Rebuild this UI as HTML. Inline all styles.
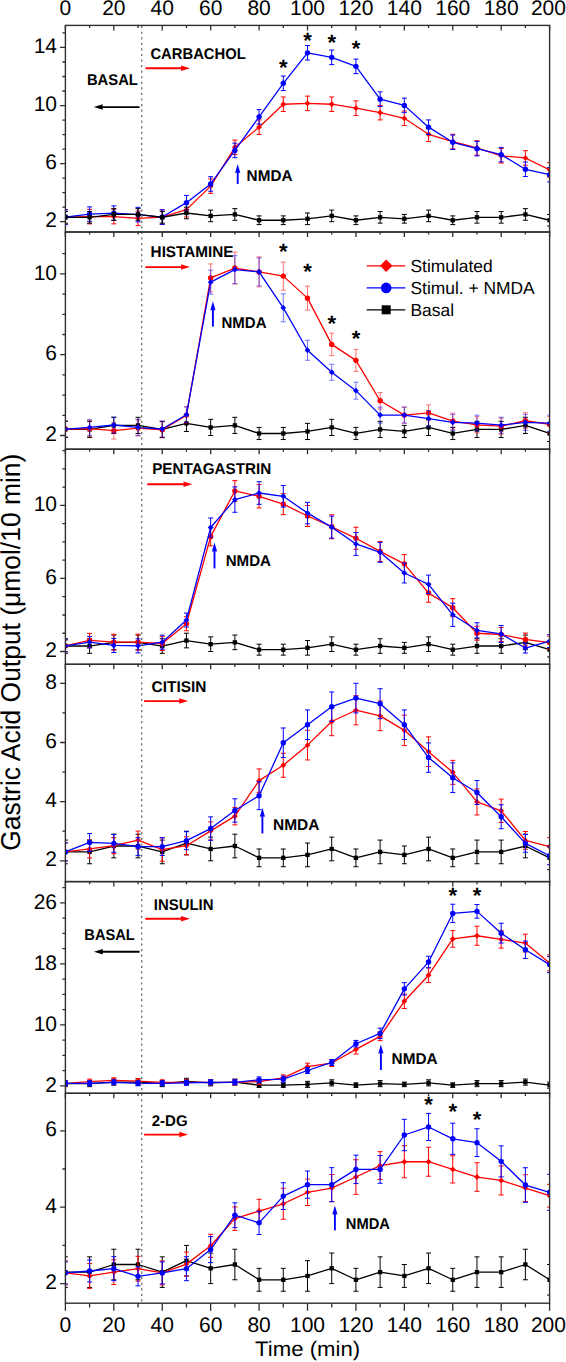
<!DOCTYPE html><html><head><meta charset="utf-8"><style>html,body{margin:0;padding:0;background:#fff;}svg{display:block;}text{font-family:"Liberation Sans",sans-serif;text-rendering:geometricPrecision;}</style></head><body>
<svg width="566" height="1362" viewBox="0 0 566 1362">
<rect width="566" height="1362" fill="#fff"/>
<defs>
<clipPath id="c0"><rect x="65.4" y="25.4" width="484.20000000000005" height="206.6"/></clipPath>
<clipPath id="c1"><rect x="65.4" y="232.0" width="484.20000000000005" height="217.2"/></clipPath>
<clipPath id="c2"><rect x="65.4" y="449.2" width="484.20000000000005" height="215.09999999999997"/></clipPath>
<clipPath id="c3"><rect x="65.4" y="664.3" width="484.20000000000005" height="217.30000000000007"/></clipPath>
<clipPath id="c4"><rect x="65.4" y="881.6" width="484.20000000000005" height="211.69999999999993"/></clipPath>
<clipPath id="c5"><rect x="65.4" y="1093.3" width="484.20000000000005" height="209.9000000000001"/></clipPath>
</defs>
<g clip-path="url(#c0)">
<g stroke="#ff0000" stroke-width="1.0" fill="none" opacity="1.0"><path d="M65.40 209.79V224.31M62.90 209.79H67.90M62.90 224.31H67.90"/><path d="M89.61 209.36V223.88M87.11 209.36H92.11M87.11 223.88H92.11"/><path d="M113.82 209.36V223.88M111.32 209.36H116.32M111.32 223.88H116.32"/><path d="M138.03 211.10V225.62M135.53 211.10H140.53M135.53 225.62H140.53"/><path d="M162.24 209.79V224.31M159.74 209.79H164.74M159.74 224.31H164.74"/><path d="M186.45 202.39V216.91M183.95 202.39H188.95M183.95 216.91H188.95"/><path d="M210.66 178.87V193.39M208.16 178.87H213.16M208.16 193.39H213.16"/><path d="M234.87 140.10V154.62M232.37 140.10H237.37M232.37 154.62H237.37"/><path d="M259.08 119.91V134.43M256.58 119.91H261.58M256.58 134.43H261.58"/><path d="M283.29 96.97V111.49M280.79 96.97H285.79M280.79 111.49H285.79"/><path d="M307.50 96.10V110.62M305.00 96.10H310.00M305.00 110.62H310.00"/><path d="M331.71 96.97V111.49M329.21 96.97H334.21M329.21 111.49H334.21"/><path d="M355.92 100.89V115.41M353.42 100.89H358.42M353.42 115.41H358.42"/><path d="M380.13 105.39V119.91M377.63 105.39H382.63M377.63 119.91H382.63"/><path d="M404.34 111.06V125.58M401.84 111.06H406.84M401.84 125.58H406.84"/><path d="M428.55 127.03V141.55M426.05 127.03H431.05M426.05 141.55H431.05"/><path d="M452.76 134.29V148.81M450.26 134.29H455.26M450.26 148.81H455.26"/><path d="M476.97 140.68V155.20M474.47 140.68H479.47M474.47 155.20H479.47"/><path d="M501.18 148.52V163.04M498.68 148.52H503.68M498.68 163.04H503.68"/><path d="M525.39 150.70V165.22M522.89 150.70H527.89M522.89 165.22H527.89"/><path d="M549.60 162.60V177.12M547.10 162.60H552.10M547.10 177.12H552.10"/></g>
<path d="M65.40 217.05L89.61 216.62L113.82 216.62L138.03 218.36L162.24 217.05L186.45 209.65L210.66 186.13L234.87 147.36L259.08 127.17L283.29 104.23L307.50 103.36L331.71 104.23L355.92 108.15L380.13 112.65L404.34 118.32L428.55 134.29L452.76 141.55L476.97 147.94L501.18 155.78L525.39 157.96L549.60 169.86" stroke="#ff0000" stroke-width="1.3" fill="none" stroke-linejoin="round"/>
<path d="M65.40 214.14L68.32 217.05L65.40 219.97L62.48 217.05Z" fill="#ff0000"/>
<path d="M89.61 213.70L92.53 216.62L89.61 219.53L86.69 216.62Z" fill="#ff0000"/>
<path d="M113.82 213.70L116.74 216.62L113.82 219.53L110.90 216.62Z" fill="#ff0000"/>
<path d="M138.03 215.44L140.95 218.36L138.03 221.28L135.11 218.36Z" fill="#ff0000"/>
<path d="M162.24 214.14L165.16 217.05L162.24 219.97L159.32 217.05Z" fill="#ff0000"/>
<path d="M186.45 206.73L189.37 209.65L186.45 212.56L183.53 209.65Z" fill="#ff0000"/>
<path d="M210.66 183.21L213.58 186.13L210.66 189.04L207.74 186.13Z" fill="#ff0000"/>
<path d="M234.87 144.44L237.79 147.36L234.87 150.27L231.95 147.36Z" fill="#ff0000"/>
<path d="M259.08 124.26L262.00 127.17L259.08 130.09L256.16 127.17Z" fill="#ff0000"/>
<path d="M283.29 101.32L286.21 104.23L283.29 107.15L280.37 104.23Z" fill="#ff0000"/>
<path d="M307.50 100.45L310.42 103.36L307.50 106.28L304.58 103.36Z" fill="#ff0000"/>
<path d="M331.71 101.32L334.63 104.23L331.71 107.15L328.79 104.23Z" fill="#ff0000"/>
<path d="M355.92 105.24L358.84 108.15L355.92 111.07L353.00 108.15Z" fill="#ff0000"/>
<path d="M380.13 109.74L383.05 112.65L380.13 115.57L377.21 112.65Z" fill="#ff0000"/>
<path d="M404.34 115.40L407.26 118.32L404.34 121.23L401.42 118.32Z" fill="#ff0000"/>
<path d="M428.55 131.37L431.47 134.29L428.55 137.21L425.63 134.29Z" fill="#ff0000"/>
<path d="M452.76 138.63L455.68 141.55L452.76 144.47L449.84 141.55Z" fill="#ff0000"/>
<path d="M476.97 145.02L479.89 147.94L476.97 150.85L474.05 147.94Z" fill="#ff0000"/>
<path d="M501.18 152.86L504.10 155.78L501.18 158.70L498.26 155.78Z" fill="#ff0000"/>
<path d="M525.39 155.04L528.31 157.96L525.39 160.87L522.47 157.96Z" fill="#ff0000"/>
<path d="M549.60 166.95L552.52 169.86L549.60 172.78L546.68 169.86Z" fill="#ff0000"/>
<g stroke="#0000ff" stroke-width="1.0" fill="none" opacity="1.0"><path d="M65.40 209.79V224.31M62.90 209.79H67.90M62.90 224.31H67.90"/><path d="M89.61 206.89V221.41M87.11 206.89H92.11M87.11 221.41H92.11"/><path d="M113.82 205.87V220.39M111.32 205.87H116.32M111.32 220.39H116.32"/><path d="M138.03 207.33V221.85M135.53 207.33H140.53M135.53 221.85H140.53"/><path d="M162.24 209.79V224.31M159.74 209.79H164.74M159.74 224.31H164.74"/><path d="M186.45 195.42V209.94M183.95 195.42H188.95M183.95 209.94H188.95"/><path d="M210.66 176.69V191.21M208.16 176.69H213.16M208.16 191.21H213.16"/><path d="M234.87 143.15V157.67M232.37 143.15H237.37M232.37 157.67H237.37"/><path d="M259.08 109.61V124.13M256.58 109.61H261.58M256.58 124.13H261.58"/><path d="M283.29 76.06V90.58M280.79 76.06H285.79M280.79 90.58H285.79"/><path d="M307.50 45.57V60.09M305.00 45.57H310.00M305.00 60.09H310.00"/><path d="M331.71 50.07V64.59M329.21 50.07H334.21M329.21 64.59H334.21"/><path d="M355.92 59.08V73.60M353.42 59.08H358.42M353.42 73.60H358.42"/><path d="M380.13 91.89V106.41M377.63 91.89H382.63M377.63 106.41H382.63"/><path d="M404.34 98.13V112.65M401.84 98.13H406.84M401.84 112.65H406.84"/><path d="M428.55 119.91V134.43M426.05 119.91H431.05M426.05 134.43H431.05"/><path d="M452.76 135.02V149.54M450.26 135.02H455.26M450.26 149.54H455.26"/><path d="M476.97 141.40V155.92M474.47 141.40H479.47M474.47 155.92H479.47"/><path d="M501.18 147.36V161.88M498.68 147.36H503.68M498.68 161.88H503.68"/><path d="M525.39 162.02V176.54M522.89 162.02H527.89M522.89 176.54H527.89"/><path d="M549.60 167.40V181.92M547.10 167.40H552.10M547.10 181.92H552.10"/></g>
<path d="M65.40 217.05L89.61 214.15L113.82 213.13L138.03 214.59L162.24 217.05L186.45 202.68L210.66 183.95L234.87 150.41L259.08 116.87L283.29 83.32L307.50 52.83L331.71 57.33L355.92 66.34L380.13 99.15L404.34 105.39L428.55 127.17L452.76 142.28L476.97 148.66L501.18 154.62L525.39 169.28L549.60 174.66" stroke="#0000ff" stroke-width="1.3" fill="none" stroke-linejoin="round"/>
<circle cx="65.40" cy="217.05" r="2.70" fill="#0000ff"/>
<circle cx="89.61" cy="214.15" r="2.70" fill="#0000ff"/>
<circle cx="113.82" cy="213.13" r="2.70" fill="#0000ff"/>
<circle cx="138.03" cy="214.59" r="2.70" fill="#0000ff"/>
<circle cx="162.24" cy="217.05" r="2.70" fill="#0000ff"/>
<circle cx="186.45" cy="202.68" r="2.70" fill="#0000ff"/>
<circle cx="210.66" cy="183.95" r="2.70" fill="#0000ff"/>
<circle cx="234.87" cy="150.41" r="2.70" fill="#0000ff"/>
<circle cx="259.08" cy="116.87" r="2.70" fill="#0000ff"/>
<circle cx="283.29" cy="83.32" r="2.70" fill="#0000ff"/>
<circle cx="307.50" cy="52.83" r="2.70" fill="#0000ff"/>
<circle cx="331.71" cy="57.33" r="2.70" fill="#0000ff"/>
<circle cx="355.92" cy="66.34" r="2.70" fill="#0000ff"/>
<circle cx="380.13" cy="99.15" r="2.70" fill="#0000ff"/>
<circle cx="404.34" cy="105.39" r="2.70" fill="#0000ff"/>
<circle cx="428.55" cy="127.17" r="2.70" fill="#0000ff"/>
<circle cx="452.76" cy="142.28" r="2.70" fill="#0000ff"/>
<circle cx="476.97" cy="148.66" r="2.70" fill="#0000ff"/>
<circle cx="501.18" cy="154.62" r="2.70" fill="#0000ff"/>
<circle cx="525.39" cy="169.28" r="2.70" fill="#0000ff"/>
<circle cx="549.60" cy="174.66" r="2.70" fill="#0000ff"/>
<g stroke="#000000" stroke-width="1.0" fill="none" opacity="1.0"><path d="M65.40 211.54V223.15M62.90 211.54H67.90M62.90 223.15H67.90"/><path d="M89.61 211.54V223.15M87.11 211.54H92.11M87.11 223.15H92.11"/><path d="M113.82 208.63V220.25M111.32 208.63H116.32M111.32 220.25H116.32"/><path d="M138.03 208.63V220.25M135.53 208.63H140.53M135.53 220.25H140.53"/><path d="M162.24 211.54V223.15M159.74 211.54H164.74M159.74 223.15H164.74"/><path d="M186.45 207.18V218.80M183.95 207.18H188.95M183.95 218.80H188.95"/><path d="M210.66 210.08V221.70M208.16 210.08H213.16M208.16 221.70H213.16"/><path d="M234.87 208.63V220.25M232.37 208.63H237.37M232.37 220.25H237.37"/><path d="M259.08 215.89V224.60M256.58 215.89H261.58M256.58 224.60H261.58"/><path d="M283.29 215.89V224.60M280.79 215.89H285.79M280.79 224.60H285.79"/><path d="M307.50 212.99V224.60M305.00 212.99H310.00M305.00 224.60H310.00"/><path d="M331.71 210.08V221.70M329.21 210.08H334.21M329.21 221.70H334.21"/><path d="M355.92 215.89V224.60M353.42 215.89H358.42M353.42 224.60H358.42"/><path d="M380.13 211.54V223.15M377.63 211.54H382.63M377.63 223.15H382.63"/><path d="M404.34 214.44V223.15M401.84 214.44H406.84M401.84 223.15H406.84"/><path d="M428.55 210.08V221.70M426.05 210.08H431.05M426.05 221.70H431.05"/><path d="M452.76 215.89V224.60M450.26 215.89H455.26M450.26 224.60H455.26"/><path d="M476.97 211.54V223.15M474.47 211.54H479.47M474.47 223.15H479.47"/><path d="M501.18 211.54V223.15M498.68 211.54H503.68M498.68 223.15H503.68"/><path d="M525.39 208.63V220.25M522.89 208.63H527.89M522.89 220.25H527.89"/><path d="M549.60 214.44V226.06M547.10 214.44H552.10M547.10 226.06H552.10"/></g>
<path d="M65.40 217.34L89.61 217.34L113.82 214.44L138.03 214.44L162.24 217.34L186.45 212.99L210.66 215.89L234.87 214.44L259.08 220.25L283.29 220.25L307.50 218.80L331.71 215.89L355.92 220.25L380.13 217.34L404.34 218.80L428.55 215.89L452.76 220.25L476.97 217.34L501.18 217.34L525.39 214.44L549.60 220.25" stroke="#000000" stroke-width="1.3" fill="none" stroke-linejoin="round"/>
<rect x="63.24" y="215.18" width="4.32" height="4.32" fill="#000000"/>
<rect x="87.45" y="215.18" width="4.32" height="4.32" fill="#000000"/>
<rect x="111.66" y="212.28" width="4.32" height="4.32" fill="#000000"/>
<rect x="135.87" y="212.28" width="4.32" height="4.32" fill="#000000"/>
<rect x="160.08" y="215.18" width="4.32" height="4.32" fill="#000000"/>
<rect x="184.29" y="210.83" width="4.32" height="4.32" fill="#000000"/>
<rect x="208.50" y="213.73" width="4.32" height="4.32" fill="#000000"/>
<rect x="232.71" y="212.28" width="4.32" height="4.32" fill="#000000"/>
<rect x="256.92" y="218.09" width="4.32" height="4.32" fill="#000000"/>
<rect x="281.13" y="218.09" width="4.32" height="4.32" fill="#000000"/>
<rect x="305.34" y="216.64" width="4.32" height="4.32" fill="#000000"/>
<rect x="329.55" y="213.73" width="4.32" height="4.32" fill="#000000"/>
<rect x="353.76" y="218.09" width="4.32" height="4.32" fill="#000000"/>
<rect x="377.97" y="215.18" width="4.32" height="4.32" fill="#000000"/>
<rect x="402.18" y="216.64" width="4.32" height="4.32" fill="#000000"/>
<rect x="426.39" y="213.73" width="4.32" height="4.32" fill="#000000"/>
<rect x="450.60" y="218.09" width="4.32" height="4.32" fill="#000000"/>
<rect x="474.81" y="215.18" width="4.32" height="4.32" fill="#000000"/>
<rect x="499.02" y="215.18" width="4.32" height="4.32" fill="#000000"/>
<rect x="523.23" y="212.28" width="4.32" height="4.32" fill="#000000"/>
<rect x="547.44" y="218.09" width="4.32" height="4.32" fill="#000000"/>
</g>
<g clip-path="url(#c1)">
<g stroke="#000000" stroke-width="1.0" fill="none" opacity="1.0"><path d="M65.40 421.36V437.52M62.90 421.36H67.90M62.90 437.52H67.90"/><path d="M89.61 421.36V437.52M87.11 421.36H92.11M87.11 437.52H92.11"/><path d="M113.82 417.32V433.48M111.32 417.32H116.32M111.32 433.48H116.32"/><path d="M138.03 417.32V433.48M135.53 417.32H140.53M135.53 433.48H140.53"/><path d="M162.24 421.36V437.52M159.74 421.36H164.74M159.74 437.52H164.74"/><path d="M186.45 415.30V431.46M183.95 415.30H188.95M183.95 431.46H188.95"/><path d="M210.66 419.34V435.50M208.16 419.34H213.16M208.16 435.50H213.16"/><path d="M234.87 417.32V433.48M232.37 417.32H237.37M232.37 433.48H237.37"/><path d="M259.08 427.42V439.54M256.58 427.42H261.58M256.58 439.54H261.58"/><path d="M283.29 427.42V439.54M280.79 427.42H285.79M280.79 439.54H285.79"/><path d="M307.50 423.38V439.54M305.00 423.38H310.00M305.00 439.54H310.00"/><path d="M331.71 419.34V435.50M329.21 419.34H334.21M329.21 435.50H334.21"/><path d="M355.92 427.42V439.54M353.42 427.42H358.42M353.42 439.54H358.42"/><path d="M380.13 421.36V437.52M377.63 421.36H382.63M377.63 437.52H382.63"/><path d="M404.34 425.40V437.52M401.84 425.40H406.84M401.84 437.52H406.84"/><path d="M428.55 419.34V435.50M426.05 419.34H431.05M426.05 435.50H431.05"/><path d="M452.76 427.42V439.54M450.26 427.42H455.26M450.26 439.54H455.26"/><path d="M476.97 421.36V437.52M474.47 421.36H479.47M474.47 437.52H479.47"/><path d="M501.18 421.36V437.52M498.68 421.36H503.68M498.68 437.52H503.68"/><path d="M525.39 417.32V433.48M522.89 417.32H527.89M522.89 433.48H527.89"/><path d="M549.60 425.40V441.56M547.10 425.40H552.10M547.10 441.56H552.10"/></g>
<path d="M65.40 429.44L89.61 429.44L113.82 425.40L138.03 425.40L162.24 429.44L186.45 423.38L210.66 427.42L234.87 425.40L259.08 433.48L283.29 433.48L307.50 431.46L331.71 427.42L355.92 433.48L380.13 429.44L404.34 431.46L428.55 427.42L452.76 433.48L476.97 429.44L501.18 429.44L525.39 425.40L549.60 433.48" stroke="#000000" stroke-width="1.3" fill="none" stroke-linejoin="round"/>
<rect x="63.24" y="427.28" width="4.32" height="4.32" fill="#000000"/>
<rect x="87.45" y="427.28" width="4.32" height="4.32" fill="#000000"/>
<rect x="111.66" y="423.24" width="4.32" height="4.32" fill="#000000"/>
<rect x="135.87" y="423.24" width="4.32" height="4.32" fill="#000000"/>
<rect x="160.08" y="427.28" width="4.32" height="4.32" fill="#000000"/>
<rect x="184.29" y="421.22" width="4.32" height="4.32" fill="#000000"/>
<rect x="208.50" y="425.26" width="4.32" height="4.32" fill="#000000"/>
<rect x="232.71" y="423.24" width="4.32" height="4.32" fill="#000000"/>
<rect x="256.92" y="431.32" width="4.32" height="4.32" fill="#000000"/>
<rect x="281.13" y="431.32" width="4.32" height="4.32" fill="#000000"/>
<rect x="305.34" y="429.30" width="4.32" height="4.32" fill="#000000"/>
<rect x="329.55" y="425.26" width="4.32" height="4.32" fill="#000000"/>
<rect x="353.76" y="431.32" width="4.32" height="4.32" fill="#000000"/>
<rect x="377.97" y="427.28" width="4.32" height="4.32" fill="#000000"/>
<rect x="402.18" y="429.30" width="4.32" height="4.32" fill="#000000"/>
<rect x="426.39" y="425.26" width="4.32" height="4.32" fill="#000000"/>
<rect x="450.60" y="431.32" width="4.32" height="4.32" fill="#000000"/>
<rect x="474.81" y="427.28" width="4.32" height="4.32" fill="#000000"/>
<rect x="499.02" y="427.28" width="4.32" height="4.32" fill="#000000"/>
<rect x="523.23" y="423.24" width="4.32" height="4.32" fill="#000000"/>
<rect x="547.44" y="431.32" width="4.32" height="4.32" fill="#000000"/>
<g stroke="#ff0000" stroke-width="1.0" fill="none" opacity="0.55"><path d="M65.40 421.04V437.04M62.90 421.04H67.90M62.90 437.04H67.90"/><path d="M89.61 420.63V436.63M87.11 420.63H92.11M87.11 436.63H92.11"/><path d="M113.82 422.25V439.05M111.32 422.25H116.32M111.32 439.05H116.32"/><path d="M138.03 420.03V436.03M135.53 420.03H140.53M135.53 436.03H140.53"/><path d="M162.24 421.84V437.84M159.74 421.84H164.74M159.74 437.84H164.74"/><path d="M186.45 407.10V423.10M183.95 407.10H188.95M183.95 423.10H188.95"/><path d="M210.66 263.94V291.94M208.16 263.94H213.16M208.16 291.94H213.16"/><path d="M234.87 252.04V284.04M232.37 252.04H237.37M232.37 284.04H237.37"/><path d="M259.08 256.88V286.88M256.58 256.88H261.58M256.58 286.88H261.58"/><path d="M283.29 262.12V290.12M280.79 262.12H285.79M280.79 290.12H285.79"/><path d="M307.50 286.14V310.14M305.00 286.14H310.00M305.00 310.14H310.00"/><path d="M331.71 333.10V355.70M329.21 333.10H334.21M329.21 355.70H334.21"/><path d="M355.92 349.36V371.36M353.42 349.36H358.42M353.42 371.36H358.42"/><path d="M380.13 392.46V409.06M377.63 392.46H382.63M377.63 409.06H382.63"/><path d="M404.34 407.10V423.10M401.84 407.10H406.84M401.84 423.10H406.84"/><path d="M428.55 404.88V420.88M426.05 404.88H431.05M426.05 420.88H431.05"/><path d="M452.76 413.16V429.16M450.26 413.16H455.26M450.26 429.16H455.26"/><path d="M476.97 416.79V432.79M474.47 416.79H479.47M474.47 432.79H479.47"/><path d="M501.18 418.21V434.21M498.68 418.21H503.68M498.68 434.21H503.68"/><path d="M525.39 412.75V428.75M522.89 412.75H527.89M522.89 428.75H527.89"/><path d="M549.60 416.39V432.39M547.10 416.39H552.10M547.10 432.39H552.10"/></g>
<path d="M65.40 429.04L89.61 428.63L113.82 430.65L138.03 428.03L162.24 429.84L186.45 415.10L210.66 277.94L234.87 268.04L259.08 271.88L283.29 276.12L307.50 298.14L331.71 344.40L355.92 360.36L380.13 400.76L404.34 415.10L428.55 412.88L452.76 421.16L476.97 424.79L501.18 426.21L525.39 420.75L549.60 424.39" stroke="#ff0000" stroke-width="1.3" fill="none" stroke-linejoin="round"/>
<circle cx="65.40" cy="429.04" r="2.70" fill="#ff0000"/>
<circle cx="89.61" cy="428.63" r="2.70" fill="#ff0000"/>
<circle cx="113.82" cy="430.65" r="2.70" fill="#ff0000"/>
<circle cx="138.03" cy="428.03" r="2.70" fill="#ff0000"/>
<circle cx="162.24" cy="429.84" r="2.70" fill="#ff0000"/>
<circle cx="186.45" cy="415.10" r="2.70" fill="#ff0000"/>
<circle cx="210.66" cy="277.94" r="2.70" fill="#ff0000"/>
<circle cx="234.87" cy="268.04" r="2.70" fill="#ff0000"/>
<circle cx="259.08" cy="271.88" r="2.70" fill="#ff0000"/>
<circle cx="283.29" cy="276.12" r="2.70" fill="#ff0000"/>
<circle cx="307.50" cy="298.14" r="2.70" fill="#ff0000"/>
<circle cx="331.71" cy="344.40" r="2.70" fill="#ff0000"/>
<circle cx="355.92" cy="360.36" r="2.70" fill="#ff0000"/>
<circle cx="380.13" cy="400.76" r="2.70" fill="#ff0000"/>
<circle cx="404.34" cy="415.10" r="2.70" fill="#ff0000"/>
<circle cx="428.55" cy="412.88" r="2.70" fill="#ff0000"/>
<circle cx="452.76" cy="421.16" r="2.70" fill="#ff0000"/>
<circle cx="476.97" cy="424.79" r="2.70" fill="#ff0000"/>
<circle cx="501.18" cy="426.21" r="2.70" fill="#ff0000"/>
<circle cx="525.39" cy="420.75" r="2.70" fill="#ff0000"/>
<circle cx="549.60" cy="424.39" r="2.70" fill="#ff0000"/>
<g stroke="#0000ff" stroke-width="1.0" fill="none" opacity="0.55"><path d="M65.40 421.04V437.04M62.90 421.04H67.90M62.90 437.04H67.90"/><path d="M89.61 419.42V435.42M87.11 419.42H92.11M87.11 435.42H92.11"/><path d="M113.82 417.00V433.00M111.32 417.00H116.32M111.32 433.00H116.32"/><path d="M138.03 419.42V435.42M135.53 419.42H140.53M135.53 435.42H140.53"/><path d="M162.24 421.04V437.04M159.74 421.04H164.74M159.74 437.04H164.74"/><path d="M186.45 406.69V422.69M183.95 406.69H188.95M183.95 422.69H188.95"/><path d="M210.66 270.18V294.18M208.16 270.18H213.16M208.16 294.18H213.16"/><path d="M234.87 255.66V283.66M232.37 255.66H237.37M232.37 283.66H237.37"/><path d="M259.08 257.88V285.88M256.58 257.88H261.58M256.58 285.88H261.58"/><path d="M283.29 293.84V321.84M280.79 293.84H285.79M280.79 321.84H285.79"/><path d="M307.50 340.26V360.26M305.00 340.26H310.00M305.00 360.26H310.00"/><path d="M331.71 364.27V380.27M329.21 364.27H334.21M329.21 380.27H334.21"/><path d="M355.92 382.16V399.16M353.42 382.16H358.42M353.42 399.16H358.42"/><path d="M380.13 407.10V423.10M377.63 407.10H382.63M377.63 423.10H382.63"/><path d="M404.34 407.10V423.10M401.84 407.10H406.84M401.84 423.10H406.84"/><path d="M428.55 410.53V426.53M426.05 410.53H431.05M426.05 426.53H431.05"/><path d="M452.76 414.37V430.37M450.26 414.37H455.26M450.26 430.37H455.26"/><path d="M476.97 415.18V431.18M474.47 415.18H479.47M474.47 431.18H479.47"/><path d="M501.18 417.20V433.20M498.68 417.20H503.68M498.68 433.20H503.68"/><path d="M525.39 414.37V430.37M522.89 414.37H527.89M522.89 430.37H527.89"/><path d="M549.60 415.18V431.18M547.10 415.18H552.10M547.10 431.18H552.10"/></g>
<path d="M65.40 429.04L89.61 427.42L113.82 425.00L138.03 427.42L162.24 429.04L186.45 414.69L210.66 282.18L234.87 269.66L259.08 271.88L283.29 307.84L307.50 350.26L331.71 372.27L355.92 390.66L380.13 415.10L404.34 415.10L428.55 418.53L452.76 422.37L476.97 423.18L501.18 425.20L525.39 422.37L549.60 423.18" stroke="#0000ff" stroke-width="1.3" fill="none" stroke-linejoin="round"/>
<path d="M65.40 426.12L68.32 429.04L65.40 431.95L62.48 429.04Z" fill="#0000ff"/>
<path d="M89.61 424.50L92.53 427.42L89.61 430.34L86.69 427.42Z" fill="#0000ff"/>
<path d="M113.82 422.08L116.74 425.00L113.82 427.91L110.90 425.00Z" fill="#0000ff"/>
<path d="M138.03 424.50L140.95 427.42L138.03 430.34L135.11 427.42Z" fill="#0000ff"/>
<path d="M162.24 426.12L165.16 429.04L162.24 431.95L159.32 429.04Z" fill="#0000ff"/>
<path d="M186.45 411.78L189.37 414.69L186.45 417.61L183.53 414.69Z" fill="#0000ff"/>
<path d="M210.66 279.27L213.58 282.18L210.66 285.10L207.74 282.18Z" fill="#0000ff"/>
<path d="M234.87 266.74L237.79 269.66L234.87 272.57L231.95 269.66Z" fill="#0000ff"/>
<path d="M259.08 268.96L262.00 271.88L259.08 274.80L256.16 271.88Z" fill="#0000ff"/>
<path d="M283.29 304.92L286.21 307.84L283.29 310.75L280.37 307.84Z" fill="#0000ff"/>
<path d="M307.50 347.34L310.42 350.26L307.50 353.17L304.58 350.26Z" fill="#0000ff"/>
<path d="M331.71 369.36L334.63 372.27L331.71 375.19L328.79 372.27Z" fill="#0000ff"/>
<path d="M355.92 387.74L358.84 390.66L355.92 393.57L353.00 390.66Z" fill="#0000ff"/>
<path d="M380.13 412.18L383.05 415.10L380.13 418.01L377.21 415.10Z" fill="#0000ff"/>
<path d="M404.34 412.18L407.26 415.10L404.34 418.01L401.42 415.10Z" fill="#0000ff"/>
<path d="M428.55 415.62L431.47 418.53L428.55 421.45L425.63 418.53Z" fill="#0000ff"/>
<path d="M452.76 419.45L455.68 422.37L452.76 425.29L449.84 422.37Z" fill="#0000ff"/>
<path d="M476.97 420.26L479.89 423.18L476.97 426.09L474.05 423.18Z" fill="#0000ff"/>
<path d="M501.18 422.28L504.10 425.20L501.18 428.11L498.26 425.20Z" fill="#0000ff"/>
<path d="M525.39 419.45L528.31 422.37L525.39 425.29L522.47 422.37Z" fill="#0000ff"/>
<path d="M549.60 420.26L552.52 423.18L549.60 426.09L546.68 423.18Z" fill="#0000ff"/>
</g>
<g clip-path="url(#c2)">
<g stroke="#000000" stroke-width="1.0" fill="none" opacity="1.0"><path d="M65.40 638.72V653.33M62.90 638.72H67.90M62.90 653.33H67.90"/><path d="M89.61 638.72V653.33M87.11 638.72H92.11M87.11 653.33H92.11"/><path d="M113.82 635.07V649.67M111.32 635.07H116.32M111.32 649.67H116.32"/><path d="M138.03 635.07V649.67M135.53 635.07H140.53M135.53 649.67H140.53"/><path d="M162.24 638.72V653.33M159.74 638.72H164.74M159.74 653.33H164.74"/><path d="M186.45 633.24V647.85M183.95 633.24H188.95M183.95 647.85H188.95"/><path d="M210.66 636.89V651.50M208.16 636.89H213.16M208.16 651.50H213.16"/><path d="M234.87 635.07V649.67M232.37 635.07H237.37M232.37 649.67H237.37"/><path d="M259.08 644.20V655.15M256.58 644.20H261.58M256.58 655.15H261.58"/><path d="M283.29 644.20V655.15M280.79 644.20H285.79M280.79 655.15H285.79"/><path d="M307.50 640.54V655.15M305.00 640.54H310.00M305.00 655.15H310.00"/><path d="M331.71 636.89V651.50M329.21 636.89H334.21M329.21 651.50H334.21"/><path d="M355.92 644.20V655.15M353.42 644.20H358.42M353.42 655.15H358.42"/><path d="M380.13 638.72V653.33M377.63 638.72H382.63M377.63 653.33H382.63"/><path d="M404.34 642.37V653.33M401.84 642.37H406.84M401.84 653.33H406.84"/><path d="M428.55 636.89V651.50M426.05 636.89H431.05M426.05 651.50H431.05"/><path d="M452.76 644.20V655.15M450.26 644.20H455.26M450.26 655.15H455.26"/><path d="M476.97 638.72V653.33M474.47 638.72H479.47M474.47 653.33H479.47"/><path d="M501.18 638.72V653.33M498.68 638.72H503.68M498.68 653.33H503.68"/><path d="M525.39 635.07V649.67M522.89 635.07H527.89M522.89 649.67H527.89"/><path d="M549.60 642.37V656.98M547.10 642.37H552.10M547.10 656.98H552.10"/></g>
<path d="M65.40 646.02L89.61 646.02L113.82 642.37L138.03 642.37L162.24 646.02L186.45 640.54L210.66 644.20L234.87 642.37L259.08 649.67L283.29 649.67L307.50 647.85L331.71 644.20L355.92 649.67L380.13 646.02L404.34 647.85L428.55 644.20L452.76 649.67L476.97 646.02L501.18 646.02L525.39 642.37L549.60 649.67" stroke="#000000" stroke-width="1.3" fill="none" stroke-linejoin="round"/>
<rect x="63.24" y="643.86" width="4.32" height="4.32" fill="#000000"/>
<rect x="87.45" y="643.86" width="4.32" height="4.32" fill="#000000"/>
<rect x="111.66" y="640.21" width="4.32" height="4.32" fill="#000000"/>
<rect x="135.87" y="640.21" width="4.32" height="4.32" fill="#000000"/>
<rect x="160.08" y="643.86" width="4.32" height="4.32" fill="#000000"/>
<rect x="184.29" y="638.38" width="4.32" height="4.32" fill="#000000"/>
<rect x="208.50" y="642.04" width="4.32" height="4.32" fill="#000000"/>
<rect x="232.71" y="640.21" width="4.32" height="4.32" fill="#000000"/>
<rect x="256.92" y="647.51" width="4.32" height="4.32" fill="#000000"/>
<rect x="281.13" y="647.51" width="4.32" height="4.32" fill="#000000"/>
<rect x="305.34" y="645.69" width="4.32" height="4.32" fill="#000000"/>
<rect x="329.55" y="642.04" width="4.32" height="4.32" fill="#000000"/>
<rect x="353.76" y="647.51" width="4.32" height="4.32" fill="#000000"/>
<rect x="377.97" y="643.86" width="4.32" height="4.32" fill="#000000"/>
<rect x="402.18" y="645.69" width="4.32" height="4.32" fill="#000000"/>
<rect x="426.39" y="642.04" width="4.32" height="4.32" fill="#000000"/>
<rect x="450.60" y="647.51" width="4.32" height="4.32" fill="#000000"/>
<rect x="474.81" y="643.86" width="4.32" height="4.32" fill="#000000"/>
<rect x="499.02" y="643.86" width="4.32" height="4.32" fill="#000000"/>
<rect x="523.23" y="640.21" width="4.32" height="4.32" fill="#000000"/>
<rect x="547.44" y="647.51" width="4.32" height="4.32" fill="#000000"/>
<g stroke="#ff0000" stroke-width="1.0" fill="none" opacity="1.0"><path d="M65.40 639.84V651.84M62.90 639.84H67.90M62.90 651.84H67.90"/><path d="M89.61 633.36V647.36M87.11 633.36H92.11M87.11 647.36H92.11"/><path d="M113.82 634.19V650.19M111.32 634.19H116.32M111.32 650.19H116.32"/><path d="M138.03 634.19V650.19M135.53 634.19H140.53M135.53 650.19H140.53"/><path d="M162.24 636.47V650.47M159.74 636.47H164.74M159.74 650.47H164.74"/><path d="M186.45 616.74V630.74M183.95 616.74H188.95M183.95 630.74H188.95"/><path d="M210.66 527.44V545.84M208.16 527.44H213.16M208.16 545.84H213.16"/><path d="M234.87 480.59V501.39M232.37 480.59H237.37M232.37 501.39H237.37"/><path d="M259.08 484.59V507.99M256.58 484.59H261.58M256.58 507.99H261.58"/><path d="M283.29 493.64V514.64M280.79 493.64H285.79M280.79 514.64H285.79"/><path d="M307.50 505.51V526.51M305.00 505.51H310.00M305.00 526.51H310.00"/><path d="M331.71 514.78V538.78M329.21 514.78H334.21M329.21 538.78H334.21"/><path d="M355.92 527.29V549.29M353.42 527.29H358.42M353.42 549.29H358.42"/><path d="M380.13 541.44V561.44M377.63 541.44H382.63M377.63 561.44H382.63"/><path d="M404.34 554.55V573.15M401.84 554.55H406.84M401.84 573.15H406.84"/><path d="M428.55 583.87V602.27M426.05 583.87H431.05M426.05 602.27H431.05"/><path d="M452.76 598.68V616.68M450.26 598.68H455.26M450.26 616.68H455.26"/><path d="M476.97 626.24V640.24M474.47 626.24H479.47M474.47 640.24H479.47"/><path d="M501.18 627.52V641.52M498.68 627.52H503.68M498.68 641.52H503.68"/><path d="M525.39 633.05V645.85M522.89 633.05H527.89M522.89 645.85H527.89"/><path d="M549.60 636.15V648.95M547.10 636.15H552.10M547.10 648.95H552.10"/></g>
<path d="M65.40 645.84L89.61 640.36L113.82 642.19L138.03 642.19L162.24 643.47L186.45 623.74L210.66 536.64L234.87 490.99L259.08 496.29L283.29 504.14L307.50 516.01L331.71 526.78L355.92 538.29L380.13 551.44L404.34 563.85L428.55 593.07L452.76 607.68L476.97 633.24L501.18 634.52L525.39 639.45L549.60 642.55" stroke="#ff0000" stroke-width="1.3" fill="none" stroke-linejoin="round"/>
<circle cx="65.40" cy="645.84" r="2.70" fill="#ff0000"/>
<circle cx="89.61" cy="640.36" r="2.70" fill="#ff0000"/>
<circle cx="113.82" cy="642.19" r="2.70" fill="#ff0000"/>
<circle cx="138.03" cy="642.19" r="2.70" fill="#ff0000"/>
<circle cx="162.24" cy="643.47" r="2.70" fill="#ff0000"/>
<circle cx="186.45" cy="623.74" r="2.70" fill="#ff0000"/>
<circle cx="210.66" cy="536.64" r="2.70" fill="#ff0000"/>
<circle cx="234.87" cy="490.99" r="2.70" fill="#ff0000"/>
<circle cx="259.08" cy="496.29" r="2.70" fill="#ff0000"/>
<circle cx="283.29" cy="504.14" r="2.70" fill="#ff0000"/>
<circle cx="307.50" cy="516.01" r="2.70" fill="#ff0000"/>
<circle cx="331.71" cy="526.78" r="2.70" fill="#ff0000"/>
<circle cx="355.92" cy="538.29" r="2.70" fill="#ff0000"/>
<circle cx="380.13" cy="551.44" r="2.70" fill="#ff0000"/>
<circle cx="404.34" cy="563.85" r="2.70" fill="#ff0000"/>
<circle cx="428.55" cy="593.07" r="2.70" fill="#ff0000"/>
<circle cx="452.76" cy="607.68" r="2.70" fill="#ff0000"/>
<circle cx="476.97" cy="633.24" r="2.70" fill="#ff0000"/>
<circle cx="501.18" cy="634.52" r="2.70" fill="#ff0000"/>
<circle cx="525.39" cy="639.45" r="2.70" fill="#ff0000"/>
<circle cx="549.60" cy="642.55" r="2.70" fill="#ff0000"/>
<g stroke="#0000ff" stroke-width="1.0" fill="none" opacity="1.0"><path d="M65.40 639.84V651.84M62.90 639.84H67.90M62.90 651.84H67.90"/><path d="M89.61 636.49V647.89M87.11 636.49H92.11M87.11 647.89H92.11"/><path d="M113.82 638.47V652.47M111.32 638.47H116.32M111.32 652.47H116.32"/><path d="M138.03 638.84V652.84M135.53 638.84H140.53M135.53 652.84H140.53"/><path d="M162.24 635.19V649.19M159.74 635.19H164.74M159.74 649.19H164.74"/><path d="M186.45 613.09V627.09M183.95 613.09H188.95M183.95 627.09H188.95"/><path d="M210.66 518.01V537.01M208.16 518.01H213.16M208.16 537.01H213.16"/><path d="M234.87 486.88V512.28M232.37 486.88H237.37M232.37 512.28H237.37"/><path d="M259.08 481.70V504.30M256.58 481.70H261.58M256.58 504.30H261.58"/><path d="M283.29 485.49V507.09M280.79 485.49H285.79M280.79 507.09H285.79"/><path d="M307.50 502.29V523.89M305.00 502.29H310.00M305.00 523.89H310.00"/><path d="M331.71 516.15V538.15M329.21 516.15H334.21M329.21 538.15H334.21"/><path d="M355.92 532.55V555.35M353.42 532.55H358.42M353.42 555.35H358.42"/><path d="M380.13 542.35V562.35M377.63 542.35H382.63M377.63 562.35H382.63"/><path d="M404.34 562.98V582.98M401.84 562.98H406.84M401.84 582.98H406.84"/><path d="M428.55 575.10V593.50M426.05 575.10H431.05M426.05 593.50H431.05"/><path d="M452.76 603.20V626.40M450.26 603.20H455.26M450.26 626.40H455.26"/><path d="M476.97 622.72V637.92M474.47 622.72H479.47M474.47 637.92H479.47"/><path d="M501.18 625.47V642.47M498.68 625.47H503.68M498.68 642.47H503.68"/><path d="M525.39 643.03V653.03M522.89 643.03H527.89M522.89 653.03H527.89"/><path d="M549.60 634.69V647.49M547.10 634.69H552.10M547.10 647.49H552.10"/></g>
<path d="M65.40 645.84L89.61 642.19L113.82 645.47L138.03 645.84L162.24 642.19L186.45 620.09L210.66 527.51L234.87 499.58L259.08 493.00L283.29 496.29L307.50 513.09L331.71 527.15L355.92 543.95L380.13 552.35L404.34 572.98L428.55 584.30L452.76 614.80L476.97 630.32L501.18 633.97L525.39 648.03L549.60 641.09" stroke="#0000ff" stroke-width="1.3" fill="none" stroke-linejoin="round"/>
<path d="M65.40 642.92L68.32 645.84L65.40 648.76L62.48 645.84Z" fill="#0000ff"/>
<path d="M89.61 639.27L92.53 642.19L89.61 645.10L86.69 642.19Z" fill="#0000ff"/>
<path d="M113.82 642.56L116.74 645.47L113.82 648.39L110.90 645.47Z" fill="#0000ff"/>
<path d="M138.03 642.92L140.95 645.84L138.03 648.76L135.11 645.84Z" fill="#0000ff"/>
<path d="M162.24 639.27L165.16 642.19L162.24 645.10L159.32 642.19Z" fill="#0000ff"/>
<path d="M186.45 617.18L189.37 620.09L186.45 623.01L183.53 620.09Z" fill="#0000ff"/>
<path d="M210.66 524.60L213.58 527.51L210.66 530.43L207.74 527.51Z" fill="#0000ff"/>
<path d="M234.87 496.66L237.79 499.58L234.87 502.49L231.95 499.58Z" fill="#0000ff"/>
<path d="M259.08 490.09L262.00 493.00L259.08 495.92L256.16 493.00Z" fill="#0000ff"/>
<path d="M283.29 493.37L286.21 496.29L283.29 499.21L280.37 496.29Z" fill="#0000ff"/>
<path d="M307.50 510.17L310.42 513.09L307.50 516.01L304.58 513.09Z" fill="#0000ff"/>
<path d="M331.71 524.23L334.63 527.15L331.71 530.07L328.79 527.15Z" fill="#0000ff"/>
<path d="M355.92 541.03L358.84 543.95L355.92 546.86L353.00 543.95Z" fill="#0000ff"/>
<path d="M380.13 549.43L383.05 552.35L380.13 555.26L377.21 552.35Z" fill="#0000ff"/>
<path d="M404.34 570.07L407.26 572.98L404.34 575.90L401.42 572.98Z" fill="#0000ff"/>
<path d="M428.55 581.39L431.47 584.30L428.55 587.22L425.63 584.30Z" fill="#0000ff"/>
<path d="M452.76 611.88L455.68 614.80L452.76 617.71L449.84 614.80Z" fill="#0000ff"/>
<path d="M476.97 627.40L479.89 630.32L476.97 633.23L474.05 630.32Z" fill="#0000ff"/>
<path d="M501.18 631.05L504.10 633.97L501.18 636.89L498.26 633.97Z" fill="#0000ff"/>
<path d="M525.39 645.11L528.31 648.03L525.39 650.95L522.47 648.03Z" fill="#0000ff"/>
<path d="M549.60 638.18L552.52 641.09L549.60 644.01L546.68 641.09Z" fill="#0000ff"/>
</g>
<g clip-path="url(#c3)">
<g stroke="#000000" stroke-width="1.0" fill="none" opacity="1.0"><path d="M65.40 840.09V863.76M62.90 840.09H67.90M62.90 863.76H67.90"/><path d="M89.61 840.09V863.76M87.11 840.09H92.11M87.11 863.76H92.11"/><path d="M113.82 834.18V857.84M111.32 834.18H116.32M111.32 857.84H116.32"/><path d="M138.03 834.18V857.84M135.53 834.18H140.53M135.53 857.84H140.53"/><path d="M162.24 840.09V863.76M159.74 840.09H164.74M159.74 863.76H164.74"/><path d="M186.45 831.22V854.88M183.95 831.22H188.95M183.95 854.88H188.95"/><path d="M210.66 837.14V860.80M208.16 837.14H213.16M208.16 860.80H213.16"/><path d="M234.87 834.18V857.84M232.37 834.18H237.37M232.37 857.84H237.37"/><path d="M259.08 848.97V866.72M256.58 848.97H261.58M256.58 866.72H261.58"/><path d="M283.29 848.97V866.72M280.79 848.97H285.79M280.79 866.72H285.79"/><path d="M307.50 843.05V866.72M305.00 843.05H310.00M305.00 866.72H310.00"/><path d="M331.71 837.14V860.80M329.21 837.14H334.21M329.21 860.80H334.21"/><path d="M355.92 848.97V866.72M353.42 848.97H358.42M353.42 866.72H358.42"/><path d="M380.13 840.09V863.76M377.63 840.09H382.63M377.63 863.76H382.63"/><path d="M404.34 846.01V863.76M401.84 846.01H406.84M401.84 863.76H406.84"/><path d="M428.55 837.14V860.80M426.05 837.14H431.05M426.05 860.80H431.05"/><path d="M452.76 848.97V866.72M450.26 848.97H455.26M450.26 866.72H455.26"/><path d="M476.97 840.09V863.76M474.47 840.09H479.47M474.47 863.76H479.47"/><path d="M501.18 840.09V863.76M498.68 840.09H503.68M498.68 863.76H503.68"/><path d="M525.39 834.18V857.84M522.89 834.18H527.89M522.89 857.84H527.89"/><path d="M549.60 846.01V869.67M547.10 846.01H552.10M547.10 869.67H552.10"/></g>
<path d="M65.40 851.93L89.61 851.93L113.82 846.01L138.03 846.01L162.24 851.93L186.45 843.05L210.66 848.97L234.87 846.01L259.08 857.84L283.29 857.84L307.50 854.88L331.71 848.97L355.92 857.84L380.13 851.93L404.34 854.88L428.55 848.97L452.76 857.84L476.97 851.93L501.18 851.93L525.39 846.01L549.60 857.84" stroke="#000000" stroke-width="1.3" fill="none" stroke-linejoin="round"/>
<rect x="63.24" y="849.77" width="4.32" height="4.32" fill="#000000"/>
<rect x="87.45" y="849.77" width="4.32" height="4.32" fill="#000000"/>
<rect x="111.66" y="843.85" width="4.32" height="4.32" fill="#000000"/>
<rect x="135.87" y="843.85" width="4.32" height="4.32" fill="#000000"/>
<rect x="160.08" y="849.77" width="4.32" height="4.32" fill="#000000"/>
<rect x="184.29" y="840.89" width="4.32" height="4.32" fill="#000000"/>
<rect x="208.50" y="846.81" width="4.32" height="4.32" fill="#000000"/>
<rect x="232.71" y="843.85" width="4.32" height="4.32" fill="#000000"/>
<rect x="256.92" y="855.68" width="4.32" height="4.32" fill="#000000"/>
<rect x="281.13" y="855.68" width="4.32" height="4.32" fill="#000000"/>
<rect x="305.34" y="852.72" width="4.32" height="4.32" fill="#000000"/>
<rect x="329.55" y="846.81" width="4.32" height="4.32" fill="#000000"/>
<rect x="353.76" y="855.68" width="4.32" height="4.32" fill="#000000"/>
<rect x="377.97" y="849.77" width="4.32" height="4.32" fill="#000000"/>
<rect x="402.18" y="852.72" width="4.32" height="4.32" fill="#000000"/>
<rect x="426.39" y="846.81" width="4.32" height="4.32" fill="#000000"/>
<rect x="450.60" y="855.68" width="4.32" height="4.32" fill="#000000"/>
<rect x="474.81" y="849.77" width="4.32" height="4.32" fill="#000000"/>
<rect x="499.02" y="849.77" width="4.32" height="4.32" fill="#000000"/>
<rect x="523.23" y="843.85" width="4.32" height="4.32" fill="#000000"/>
<rect x="547.44" y="855.68" width="4.32" height="4.32" fill="#000000"/>
<g stroke="#ff0000" stroke-width="1.0" fill="none" opacity="1.0"><path d="M65.40 842.93V860.93M62.90 842.93H67.90M62.90 860.93H67.90"/><path d="M89.61 839.97V857.97M87.11 839.97H92.11M87.11 857.97H92.11"/><path d="M113.82 837.71V853.71M111.32 837.71H116.32M111.32 853.71H116.32"/><path d="M138.03 831.09V849.09M135.53 831.09H140.53M135.53 849.09H140.53"/><path d="M162.24 837.86V861.26M159.74 837.86H164.74M159.74 861.26H164.74"/><path d="M186.45 836.71V854.71M183.95 836.71H188.95M183.95 854.71H188.95"/><path d="M210.66 821.92V839.92M208.16 821.92H213.16M208.16 839.92H213.16"/><path d="M234.87 807.43V824.83M232.37 807.43H237.37M232.37 824.83H237.37"/><path d="M259.08 768.94V792.34M256.58 768.94H261.58M256.58 792.34H261.58"/><path d="M283.29 753.26V777.26M280.79 753.26H285.79M280.79 777.26H285.79"/><path d="M307.50 730.34V759.94M305.00 730.34H310.00M305.00 759.94H310.00"/><path d="M331.71 707.28V735.68M329.21 707.28H334.21M329.21 735.68H334.21"/><path d="M355.92 695.64V724.84M353.42 695.64H358.42M353.42 724.84H358.42"/><path d="M380.13 701.06V730.66M377.63 701.06H382.63M377.63 730.66H382.63"/><path d="M404.34 715.15V745.55M401.84 715.15H406.84M401.84 745.55H406.84"/><path d="M428.55 736.85V766.45M426.05 736.85H431.05M426.05 766.45H431.05"/><path d="M452.76 760.36V784.36M450.26 760.36H455.26M450.26 784.36H455.26"/><path d="M476.97 788.94V814.94M474.47 788.94H479.47M474.47 814.94H479.47"/><path d="M501.18 799.11V822.51M498.68 799.11H503.68M498.68 822.51H503.68"/><path d="M525.39 831.49V849.29M522.89 831.49H527.89M522.89 849.29H527.89"/><path d="M549.60 837.70V855.50M547.10 837.70H552.10M547.10 855.50H552.10"/></g>
<path d="M65.40 851.93L89.61 848.97L113.82 845.71L138.03 840.09L162.24 849.56L186.45 845.71L210.66 830.92L234.87 816.13L259.08 780.64L283.29 765.26L307.50 745.14L331.71 721.48L355.92 710.24L380.13 715.86L404.34 730.35L428.55 751.65L452.76 772.36L476.97 801.94L501.18 810.81L525.39 840.39L549.60 846.60" stroke="#ff0000" stroke-width="1.3" fill="none" stroke-linejoin="round"/>
<path d="M65.40 849.01L68.32 851.93L65.40 854.84L62.48 851.93Z" fill="#ff0000"/>
<path d="M89.61 846.05L92.53 848.97L89.61 851.88L86.69 848.97Z" fill="#ff0000"/>
<path d="M113.82 842.80L116.74 845.71L113.82 848.63L110.90 845.71Z" fill="#ff0000"/>
<path d="M138.03 837.18L140.95 840.09L138.03 843.01L135.11 840.09Z" fill="#ff0000"/>
<path d="M162.24 846.64L165.16 849.56L162.24 852.48L159.32 849.56Z" fill="#ff0000"/>
<path d="M186.45 842.80L189.37 845.71L186.45 848.63L183.53 845.71Z" fill="#ff0000"/>
<path d="M210.66 828.01L213.58 830.92L210.66 833.84L207.74 830.92Z" fill="#ff0000"/>
<path d="M234.87 813.22L237.79 816.13L234.87 819.05L231.95 816.13Z" fill="#ff0000"/>
<path d="M259.08 777.72L262.00 780.64L259.08 783.55L256.16 780.64Z" fill="#ff0000"/>
<path d="M283.29 762.34L286.21 765.26L283.29 768.17L280.37 765.26Z" fill="#ff0000"/>
<path d="M307.50 742.23L310.42 745.14L307.50 748.06L304.58 745.14Z" fill="#ff0000"/>
<path d="M331.71 718.56L334.63 721.48L331.71 724.39L328.79 721.48Z" fill="#ff0000"/>
<path d="M355.92 707.32L358.84 710.24L355.92 713.15L353.00 710.24Z" fill="#ff0000"/>
<path d="M380.13 712.94L383.05 715.86L380.13 718.77L377.21 715.86Z" fill="#ff0000"/>
<path d="M404.34 727.44L407.26 730.35L404.34 733.27L401.42 730.35Z" fill="#ff0000"/>
<path d="M428.55 748.73L431.47 751.65L428.55 754.57L425.63 751.65Z" fill="#ff0000"/>
<path d="M452.76 769.44L455.68 772.36L452.76 775.27L449.84 772.36Z" fill="#ff0000"/>
<path d="M476.97 799.02L479.89 801.94L476.97 804.85L474.05 801.94Z" fill="#ff0000"/>
<path d="M501.18 807.89L504.10 810.81L501.18 813.73L498.26 810.81Z" fill="#ff0000"/>
<path d="M525.39 837.47L528.31 840.39L525.39 843.31L522.47 840.39Z" fill="#ff0000"/>
<path d="M549.60 843.69L552.52 846.60L549.60 849.52L546.68 846.60Z" fill="#ff0000"/>
<g stroke="#0000ff" stroke-width="1.0" fill="none" opacity="1.0"><path d="M65.40 842.93V860.93M62.90 842.93H67.90M62.90 860.93H67.90"/><path d="M89.61 833.56V851.36M87.11 833.56H92.11M87.11 851.36H92.11"/><path d="M113.82 834.45V852.25M111.32 834.45H116.32M111.32 852.25H116.32"/><path d="M138.03 837.60V855.60M135.53 837.60H140.53M135.53 855.60H140.53"/><path d="M162.24 837.70V855.50M159.74 837.70H164.74M159.74 855.50H164.74"/><path d="M186.45 831.69V849.69M183.95 831.69H188.95M183.95 849.69H188.95"/><path d="M210.66 816.86V840.26M208.16 816.86H213.16M208.16 840.26H213.16"/><path d="M234.87 798.81V822.21M232.37 798.81H237.37M232.37 822.21H237.37"/><path d="M259.08 781.82V809.62M256.58 781.82H261.58M256.58 809.62H261.58"/><path d="M283.29 727.98V757.58M280.79 727.98H285.79M280.79 757.58H285.79"/><path d="M307.50 709.93V739.53M305.00 709.93H310.00M305.00 739.53H310.00"/><path d="M331.71 691.99V721.39M329.21 691.99H334.21M329.21 721.39H334.21"/><path d="M355.92 683.31V712.91M353.42 683.31H358.42M353.42 712.91H358.42"/><path d="M380.13 688.73V718.73M377.63 688.73H382.63M377.63 718.73H382.63"/><path d="M404.34 709.93V739.53M401.84 709.93H406.84M401.84 739.53H406.84"/><path d="M428.55 742.87V772.27M426.05 742.87H431.05M426.05 772.27H431.05"/><path d="M452.76 762.88V792.48M450.26 762.88H455.26M450.26 792.48H455.26"/><path d="M476.97 780.47V804.47M474.47 780.47H479.47M474.47 804.47H479.47"/><path d="M501.18 804.73V828.73M498.68 804.73H503.68M498.68 828.73H503.68"/><path d="M525.39 834.45V852.25M522.89 834.45H527.89M522.89 852.25H527.89"/><path d="M549.60 846.87V864.67M547.10 846.87H552.10M547.10 864.67H552.10"/></g>
<path d="M65.40 851.93L89.61 842.46L113.82 843.35L138.03 846.60L162.24 846.60L186.45 840.69L210.66 828.56L234.87 810.51L259.08 795.72L283.29 742.78L307.50 724.73L331.71 706.69L355.92 698.11L380.13 703.73L404.34 724.73L428.55 757.57L452.76 777.68L476.97 792.47L501.18 816.73L525.39 843.35L549.60 855.77" stroke="#0000ff" stroke-width="1.3" fill="none" stroke-linejoin="round"/>
<circle cx="65.40" cy="851.93" r="2.70" fill="#0000ff"/>
<circle cx="89.61" cy="842.46" r="2.70" fill="#0000ff"/>
<circle cx="113.82" cy="843.35" r="2.70" fill="#0000ff"/>
<circle cx="138.03" cy="846.60" r="2.70" fill="#0000ff"/>
<circle cx="162.24" cy="846.60" r="2.70" fill="#0000ff"/>
<circle cx="186.45" cy="840.69" r="2.70" fill="#0000ff"/>
<circle cx="210.66" cy="828.56" r="2.70" fill="#0000ff"/>
<circle cx="234.87" cy="810.51" r="2.70" fill="#0000ff"/>
<circle cx="259.08" cy="795.72" r="2.70" fill="#0000ff"/>
<circle cx="283.29" cy="742.78" r="2.70" fill="#0000ff"/>
<circle cx="307.50" cy="724.73" r="2.70" fill="#0000ff"/>
<circle cx="331.71" cy="706.69" r="2.70" fill="#0000ff"/>
<circle cx="355.92" cy="698.11" r="2.70" fill="#0000ff"/>
<circle cx="380.13" cy="703.73" r="2.70" fill="#0000ff"/>
<circle cx="404.34" cy="724.73" r="2.70" fill="#0000ff"/>
<circle cx="428.55" cy="757.57" r="2.70" fill="#0000ff"/>
<circle cx="452.76" cy="777.68" r="2.70" fill="#0000ff"/>
<circle cx="476.97" cy="792.47" r="2.70" fill="#0000ff"/>
<circle cx="501.18" cy="816.73" r="2.70" fill="#0000ff"/>
<circle cx="525.39" cy="843.35" r="2.70" fill="#0000ff"/>
<circle cx="549.60" cy="855.77" r="2.70" fill="#0000ff"/>
</g>
<g clip-path="url(#c4)">
<g stroke="#000000" stroke-width="1.0" fill="none" opacity="1.0"><path d="M65.40 1080.56V1086.66M62.90 1080.56H67.90M62.90 1086.66H67.90"/><path d="M89.61 1080.56V1086.66M87.11 1080.56H92.11M87.11 1086.66H92.11"/><path d="M113.82 1079.04V1085.14M111.32 1079.04H116.32M111.32 1085.14H116.32"/><path d="M138.03 1079.04V1085.14M135.53 1079.04H140.53M135.53 1085.14H140.53"/><path d="M162.24 1080.56V1086.66M159.74 1080.56H164.74M159.74 1086.66H164.74"/><path d="M186.45 1078.28V1084.38M183.95 1078.28H188.95M183.95 1084.38H188.95"/><path d="M210.66 1079.80V1085.90M208.16 1079.80H213.16M208.16 1085.90H213.16"/><path d="M234.87 1079.04V1085.14M232.37 1079.04H237.37M232.37 1085.14H237.37"/><path d="M259.08 1082.85V1087.42M256.58 1082.85H261.58M256.58 1087.42H261.58"/><path d="M283.29 1082.85V1087.42M280.79 1082.85H285.79M280.79 1087.42H285.79"/><path d="M307.50 1081.33V1087.42M305.00 1081.33H310.00M305.00 1087.42H310.00"/><path d="M331.71 1079.80V1085.90M329.21 1079.80H334.21M329.21 1085.90H334.21"/><path d="M355.92 1082.85V1087.42M353.42 1082.85H358.42M353.42 1087.42H358.42"/><path d="M380.13 1080.56V1086.66M377.63 1080.56H382.63M377.63 1086.66H382.63"/><path d="M404.34 1082.09V1086.66M401.84 1082.09H406.84M401.84 1086.66H406.84"/><path d="M428.55 1079.80V1085.90M426.05 1079.80H431.05M426.05 1085.90H431.05"/><path d="M452.76 1082.85V1087.42M450.26 1082.85H455.26M450.26 1087.42H455.26"/><path d="M476.97 1080.56V1086.66M474.47 1080.56H479.47M474.47 1086.66H479.47"/><path d="M501.18 1080.56V1086.66M498.68 1080.56H503.68M498.68 1086.66H503.68"/><path d="M525.39 1079.04V1085.14M522.89 1079.04H527.89M522.89 1085.14H527.89"/><path d="M549.60 1082.09V1088.19M547.10 1082.09H552.10M547.10 1088.19H552.10"/></g>
<path d="M65.40 1083.61L89.61 1083.61L113.82 1082.09L138.03 1082.09L162.24 1083.61L186.45 1081.33L210.66 1082.85L234.87 1082.09L259.08 1085.14L283.29 1085.14L307.50 1084.38L331.71 1082.85L355.92 1085.14L380.13 1083.61L404.34 1084.38L428.55 1082.85L452.76 1085.14L476.97 1083.61L501.18 1083.61L525.39 1082.09L549.60 1085.14" stroke="#000000" stroke-width="1.3" fill="none" stroke-linejoin="round"/>
<rect x="63.24" y="1081.45" width="4.32" height="4.32" fill="#000000"/>
<rect x="87.45" y="1081.45" width="4.32" height="4.32" fill="#000000"/>
<rect x="111.66" y="1079.93" width="4.32" height="4.32" fill="#000000"/>
<rect x="135.87" y="1079.93" width="4.32" height="4.32" fill="#000000"/>
<rect x="160.08" y="1081.45" width="4.32" height="4.32" fill="#000000"/>
<rect x="184.29" y="1079.16" width="4.32" height="4.32" fill="#000000"/>
<rect x="208.50" y="1080.69" width="4.32" height="4.32" fill="#000000"/>
<rect x="232.71" y="1079.93" width="4.32" height="4.32" fill="#000000"/>
<rect x="256.92" y="1082.98" width="4.32" height="4.32" fill="#000000"/>
<rect x="281.13" y="1082.98" width="4.32" height="4.32" fill="#000000"/>
<rect x="305.34" y="1082.21" width="4.32" height="4.32" fill="#000000"/>
<rect x="329.55" y="1080.69" width="4.32" height="4.32" fill="#000000"/>
<rect x="353.76" y="1082.98" width="4.32" height="4.32" fill="#000000"/>
<rect x="377.97" y="1081.45" width="4.32" height="4.32" fill="#000000"/>
<rect x="402.18" y="1082.21" width="4.32" height="4.32" fill="#000000"/>
<rect x="426.39" y="1080.69" width="4.32" height="4.32" fill="#000000"/>
<rect x="450.60" y="1082.98" width="4.32" height="4.32" fill="#000000"/>
<rect x="474.81" y="1081.45" width="4.32" height="4.32" fill="#000000"/>
<rect x="499.02" y="1081.45" width="4.32" height="4.32" fill="#000000"/>
<rect x="523.23" y="1079.93" width="4.32" height="4.32" fill="#000000"/>
<rect x="547.44" y="1082.98" width="4.32" height="4.32" fill="#000000"/>
<g stroke="#ff0000" stroke-width="1.0" fill="none" opacity="1.0"><path d="M65.40 1080.81V1085.81M62.90 1080.81H67.90M62.90 1085.81H67.90"/><path d="M89.61 1079.13V1084.13M87.11 1079.13H92.11M87.11 1084.13H92.11"/><path d="M113.82 1077.83V1082.83M111.32 1077.83H116.32M111.32 1082.83H116.32"/><path d="M138.03 1078.60V1083.60M135.53 1078.60H140.53M135.53 1083.60H140.53"/><path d="M162.24 1079.82V1084.82M159.74 1079.82H164.74M159.74 1084.82H164.74"/><path d="M186.45 1079.82V1084.82M183.95 1079.82H188.95M183.95 1084.82H188.95"/><path d="M210.66 1079.82V1084.82M208.16 1079.82H213.16M208.16 1084.82H213.16"/><path d="M234.87 1079.82V1084.82M232.37 1079.82H237.37M232.37 1084.82H237.37"/><path d="M259.08 1078.63V1084.63M256.58 1078.63H261.58M256.58 1084.63H261.58"/><path d="M283.29 1074.89V1080.89M280.79 1074.89H285.79M280.79 1080.89H285.79"/><path d="M307.50 1063.19V1070.19M305.00 1063.19H310.00M305.00 1070.19H310.00"/><path d="M331.71 1059.53V1066.53M329.21 1059.53H334.21M329.21 1066.53H334.21"/><path d="M355.92 1044.78V1053.98M353.42 1044.78H358.42M353.42 1053.98H358.42"/><path d="M380.13 1032.04V1040.64M377.63 1032.04H382.63M377.63 1040.64H382.63"/><path d="M404.34 994.06V1008.46M401.84 994.06H406.84M401.84 1008.46H406.84"/><path d="M428.55 967.79V982.59M426.05 967.79H431.05M426.05 982.59H431.05"/><path d="M452.76 930.59V947.19M450.26 930.59H455.26M450.26 947.19H455.26"/><path d="M476.97 926.26V945.26M474.47 926.26H479.47M474.47 945.26H479.47"/><path d="M501.18 930.72V948.12M498.68 930.72H503.68M498.68 948.12H503.68"/><path d="M525.39 934.18V951.98M522.89 934.18H527.89M522.89 951.98H527.89"/><path d="M549.60 954.91V970.91M547.10 954.91H552.10M547.10 970.91H552.10"/></g>
<path d="M65.40 1083.31L89.61 1081.63L113.82 1080.33L138.03 1081.10L162.24 1082.32L186.45 1082.32L210.66 1082.32L234.87 1082.32L259.08 1081.63L283.29 1077.89L307.50 1066.69L331.71 1063.03L355.92 1049.38L380.13 1036.34L404.34 1001.26L428.55 975.19L452.76 938.89L476.97 935.76L501.18 939.42L525.39 943.08L549.60 962.91" stroke="#ff0000" stroke-width="1.3" fill="none" stroke-linejoin="round"/>
<path d="M65.40 1080.39L68.32 1083.31L65.40 1086.22L62.48 1083.31Z" fill="#ff0000"/>
<path d="M89.61 1078.71L92.53 1081.63L89.61 1084.55L86.69 1081.63Z" fill="#ff0000"/>
<path d="M113.82 1077.42L116.74 1080.33L113.82 1083.25L110.90 1080.33Z" fill="#ff0000"/>
<path d="M138.03 1078.18L140.95 1081.10L138.03 1084.01L135.11 1081.10Z" fill="#ff0000"/>
<path d="M162.24 1079.40L165.16 1082.32L162.24 1085.23L159.32 1082.32Z" fill="#ff0000"/>
<path d="M186.45 1079.40L189.37 1082.32L186.45 1085.23L183.53 1082.32Z" fill="#ff0000"/>
<path d="M210.66 1079.40L213.58 1082.32L210.66 1085.23L207.74 1082.32Z" fill="#ff0000"/>
<path d="M234.87 1079.40L237.79 1082.32L234.87 1085.23L231.95 1082.32Z" fill="#ff0000"/>
<path d="M259.08 1078.71L262.00 1081.63L259.08 1084.55L256.16 1081.63Z" fill="#ff0000"/>
<path d="M283.29 1074.98L286.21 1077.89L283.29 1080.81L280.37 1077.89Z" fill="#ff0000"/>
<path d="M307.50 1063.77L310.42 1066.69L307.50 1069.60L304.58 1066.69Z" fill="#ff0000"/>
<path d="M331.71 1060.11L334.63 1063.03L331.71 1065.94L328.79 1063.03Z" fill="#ff0000"/>
<path d="M355.92 1046.46L358.84 1049.38L355.92 1052.29L353.00 1049.38Z" fill="#ff0000"/>
<path d="M380.13 1033.42L383.05 1036.34L380.13 1039.25L377.21 1036.34Z" fill="#ff0000"/>
<path d="M404.34 998.35L407.26 1001.26L404.34 1004.18L401.42 1001.26Z" fill="#ff0000"/>
<path d="M428.55 972.27L431.47 975.19L428.55 978.10L425.63 975.19Z" fill="#ff0000"/>
<path d="M452.76 935.97L455.68 938.89L452.76 941.81L449.84 938.89Z" fill="#ff0000"/>
<path d="M476.97 932.85L479.89 935.76L476.97 938.68L474.05 935.76Z" fill="#ff0000"/>
<path d="M501.18 936.51L504.10 939.42L501.18 942.34L498.26 939.42Z" fill="#ff0000"/>
<path d="M525.39 940.17L528.31 943.08L525.39 946.00L522.47 943.08Z" fill="#ff0000"/>
<path d="M549.60 959.99L552.52 962.91L549.60 965.82L546.68 962.91Z" fill="#ff0000"/>
<g stroke="#0000ff" stroke-width="1.0" fill="none" opacity="1.0"><path d="M65.40 1080.81V1085.81M62.90 1080.81H67.90M62.90 1085.81H67.90"/><path d="M89.61 1080.81V1085.81M87.11 1080.81H92.11M87.11 1085.81H92.11"/><path d="M113.82 1079.82V1084.82M111.32 1079.82H116.32M111.32 1084.82H116.32"/><path d="M138.03 1080.81V1085.81M135.53 1080.81H140.53M135.53 1085.81H140.53"/><path d="M162.24 1080.81V1085.81M159.74 1080.81H164.74M159.74 1085.81H164.74"/><path d="M186.45 1080.35V1085.35M183.95 1080.35H188.95M183.95 1085.35H188.95"/><path d="M210.66 1079.82V1084.82M208.16 1079.82H213.16M208.16 1084.82H213.16"/><path d="M234.87 1079.82V1084.82M232.37 1079.82H237.37M232.37 1084.82H237.37"/><path d="M259.08 1076.88V1082.88M256.58 1076.88H261.58M256.58 1082.88H261.58"/><path d="M283.29 1076.11V1082.11M280.79 1076.11H285.79M280.79 1082.11H285.79"/><path d="M307.50 1067.50V1073.50M305.00 1067.50H310.00M305.00 1073.50H310.00"/><path d="M331.71 1059.49V1065.49M329.21 1059.49H334.21M329.21 1065.49H334.21"/><path d="M355.92 1040.43V1047.03M353.42 1040.43H358.42M353.42 1047.03H358.42"/><path d="M380.13 1028.16V1038.56M377.63 1028.16H382.63M377.63 1038.56H382.63"/><path d="M404.34 982.63V995.03M401.84 982.63H406.84M401.84 995.03H406.84"/><path d="M428.55 956.27V967.87M426.05 956.27H431.05M426.05 967.87H431.05"/><path d="M452.76 904.22V922.62M450.26 904.22H455.26M450.26 922.62H455.26"/><path d="M476.97 904.56V918.16M474.47 904.56H479.47M474.47 918.16H479.47"/><path d="M501.18 923.27V943.07M498.68 923.27H503.68M498.68 943.07H503.68"/><path d="M525.39 941.09V958.49M522.89 941.09H527.89M522.89 958.49H527.89"/><path d="M549.60 956.59V972.59M547.10 956.59H552.10M547.10 972.59H552.10"/></g>
<path d="M65.40 1083.31L89.61 1083.31L113.82 1082.32L138.03 1083.31L162.24 1083.31L186.45 1082.85L210.66 1082.32L234.87 1082.32L259.08 1079.88L283.29 1079.11L307.50 1070.50L331.71 1062.49L355.92 1043.73L380.13 1033.36L404.34 988.83L428.55 962.07L452.76 913.42L476.97 911.36L501.18 933.17L525.39 949.79L549.60 964.59" stroke="#0000ff" stroke-width="1.3" fill="none" stroke-linejoin="round"/>
<circle cx="65.40" cy="1083.31" r="2.70" fill="#0000ff"/>
<circle cx="89.61" cy="1083.31" r="2.70" fill="#0000ff"/>
<circle cx="113.82" cy="1082.32" r="2.70" fill="#0000ff"/>
<circle cx="138.03" cy="1083.31" r="2.70" fill="#0000ff"/>
<circle cx="162.24" cy="1083.31" r="2.70" fill="#0000ff"/>
<circle cx="186.45" cy="1082.85" r="2.70" fill="#0000ff"/>
<circle cx="210.66" cy="1082.32" r="2.70" fill="#0000ff"/>
<circle cx="234.87" cy="1082.32" r="2.70" fill="#0000ff"/>
<circle cx="259.08" cy="1079.88" r="2.70" fill="#0000ff"/>
<circle cx="283.29" cy="1079.11" r="2.70" fill="#0000ff"/>
<circle cx="307.50" cy="1070.50" r="2.70" fill="#0000ff"/>
<circle cx="331.71" cy="1062.49" r="2.70" fill="#0000ff"/>
<circle cx="355.92" cy="1043.73" r="2.70" fill="#0000ff"/>
<circle cx="380.13" cy="1033.36" r="2.70" fill="#0000ff"/>
<circle cx="404.34" cy="988.83" r="2.70" fill="#0000ff"/>
<circle cx="428.55" cy="962.07" r="2.70" fill="#0000ff"/>
<circle cx="452.76" cy="913.42" r="2.70" fill="#0000ff"/>
<circle cx="476.97" cy="911.36" r="2.70" fill="#0000ff"/>
<circle cx="501.18" cy="933.17" r="2.70" fill="#0000ff"/>
<circle cx="525.39" cy="949.79" r="2.70" fill="#0000ff"/>
<circle cx="549.60" cy="964.59" r="2.70" fill="#0000ff"/>
</g>
<g clip-path="url(#c5)">
<g stroke="#000000" stroke-width="1.0" fill="none" opacity="1.0"><path d="M65.40 1256.86V1287.42M62.90 1256.86H67.90M62.90 1287.42H67.90"/><path d="M89.61 1256.86V1287.42M87.11 1256.86H92.11M87.11 1287.42H92.11"/><path d="M113.82 1249.22V1279.78M111.32 1249.22H116.32M111.32 1279.78H116.32"/><path d="M138.03 1249.22V1279.78M135.53 1249.22H140.53M135.53 1279.78H140.53"/><path d="M162.24 1256.86V1287.42M159.74 1256.86H164.74M159.74 1287.42H164.74"/><path d="M186.45 1245.40V1275.96M183.95 1245.40H188.95M183.95 1275.96H188.95"/><path d="M210.66 1253.04V1283.60M208.16 1253.04H213.16M208.16 1283.60H213.16"/><path d="M234.87 1249.22V1279.78M232.37 1249.22H237.37M232.37 1279.78H237.37"/><path d="M259.08 1268.32V1291.24M256.58 1268.32H261.58M256.58 1291.24H261.58"/><path d="M283.29 1268.32V1291.24M280.79 1268.32H285.79M280.79 1291.24H285.79"/><path d="M307.50 1260.68V1291.24M305.00 1260.68H310.00M305.00 1291.24H310.00"/><path d="M331.71 1253.04V1283.60M329.21 1253.04H334.21M329.21 1283.60H334.21"/><path d="M355.92 1268.32V1291.24M353.42 1268.32H358.42M353.42 1291.24H358.42"/><path d="M380.13 1256.86V1287.42M377.63 1256.86H382.63M377.63 1287.42H382.63"/><path d="M404.34 1264.50V1287.42M401.84 1264.50H406.84M401.84 1287.42H406.84"/><path d="M428.55 1253.04V1283.60M426.05 1253.04H431.05M426.05 1283.60H431.05"/><path d="M452.76 1268.32V1291.24M450.26 1268.32H455.26M450.26 1291.24H455.26"/><path d="M476.97 1256.86V1287.42M474.47 1256.86H479.47M474.47 1287.42H479.47"/><path d="M501.18 1256.86V1287.42M498.68 1256.86H503.68M498.68 1287.42H503.68"/><path d="M525.39 1249.22V1279.78M522.89 1249.22H527.89M522.89 1279.78H527.89"/><path d="M549.60 1264.50V1295.06M547.10 1264.50H552.10M547.10 1295.06H552.10"/></g>
<path d="M65.40 1272.14L89.61 1272.14L113.82 1264.50L138.03 1264.50L162.24 1272.14L186.45 1260.68L210.66 1268.32L234.87 1264.50L259.08 1279.78L283.29 1279.78L307.50 1275.96L331.71 1268.32L355.92 1279.78L380.13 1272.14L404.34 1275.96L428.55 1268.32L452.76 1279.78L476.97 1272.14L501.18 1272.14L525.39 1264.50L549.60 1279.78" stroke="#000000" stroke-width="1.3" fill="none" stroke-linejoin="round"/>
<rect x="63.24" y="1269.98" width="4.32" height="4.32" fill="#000000"/>
<rect x="87.45" y="1269.98" width="4.32" height="4.32" fill="#000000"/>
<rect x="111.66" y="1262.34" width="4.32" height="4.32" fill="#000000"/>
<rect x="135.87" y="1262.34" width="4.32" height="4.32" fill="#000000"/>
<rect x="160.08" y="1269.98" width="4.32" height="4.32" fill="#000000"/>
<rect x="184.29" y="1258.52" width="4.32" height="4.32" fill="#000000"/>
<rect x="208.50" y="1266.16" width="4.32" height="4.32" fill="#000000"/>
<rect x="232.71" y="1262.34" width="4.32" height="4.32" fill="#000000"/>
<rect x="256.92" y="1277.62" width="4.32" height="4.32" fill="#000000"/>
<rect x="281.13" y="1277.62" width="4.32" height="4.32" fill="#000000"/>
<rect x="305.34" y="1273.80" width="4.32" height="4.32" fill="#000000"/>
<rect x="329.55" y="1266.16" width="4.32" height="4.32" fill="#000000"/>
<rect x="353.76" y="1277.62" width="4.32" height="4.32" fill="#000000"/>
<rect x="377.97" y="1269.98" width="4.32" height="4.32" fill="#000000"/>
<rect x="402.18" y="1273.80" width="4.32" height="4.32" fill="#000000"/>
<rect x="426.39" y="1266.16" width="4.32" height="4.32" fill="#000000"/>
<rect x="450.60" y="1277.62" width="4.32" height="4.32" fill="#000000"/>
<rect x="474.81" y="1269.98" width="4.32" height="4.32" fill="#000000"/>
<rect x="499.02" y="1269.98" width="4.32" height="4.32" fill="#000000"/>
<rect x="523.23" y="1262.34" width="4.32" height="4.32" fill="#000000"/>
<rect x="547.44" y="1277.62" width="4.32" height="4.32" fill="#000000"/>
<g stroke="#ff0000" stroke-width="1.0" fill="none" opacity="1.0"><path d="M65.40 1260.90V1284.90M62.90 1260.90H67.90M62.90 1284.90H67.90"/><path d="M89.61 1263.56V1288.36M87.11 1263.56H92.11M87.11 1288.36H92.11"/><path d="M113.82 1259.74V1284.54M111.32 1259.74H116.32M111.32 1284.54H116.32"/><path d="M138.03 1256.30V1281.10M135.53 1256.30H140.53M135.53 1281.10H140.53"/><path d="M162.24 1260.90V1284.90M159.74 1260.90H164.74M159.74 1284.90H164.74"/><path d="M186.45 1252.12V1276.12M183.95 1252.12H188.95M183.95 1276.12H188.95"/><path d="M210.66 1234.28V1257.28M208.16 1234.28H213.16M208.16 1257.28H213.16"/><path d="M234.87 1206.96V1230.36M232.37 1206.96H237.37M232.37 1230.36H237.37"/><path d="M259.08 1199.32V1222.72M256.58 1199.32H261.58M256.58 1222.72H261.58"/><path d="M283.29 1188.26V1219.26M280.79 1188.26H285.79M280.79 1219.26H285.79"/><path d="M307.50 1179.10V1205.50M305.00 1179.10H310.00M305.00 1205.50H310.00"/><path d="M331.71 1174.50V1201.70M329.21 1174.50H334.21M329.21 1201.70H334.21"/><path d="M355.92 1159.72V1194.32M353.42 1159.72H358.42M353.42 1194.32H358.42"/><path d="M380.13 1151.66V1179.46M377.63 1151.66H382.63M377.63 1179.46H382.63"/><path d="M404.34 1145.74V1177.74M401.84 1145.74H406.84M401.84 1177.74H406.84"/><path d="M428.55 1147.24V1176.24M426.05 1147.24H431.05M426.05 1176.24H431.05"/><path d="M452.76 1155.78V1182.98M450.26 1155.78H455.26M450.26 1182.98H455.26"/><path d="M476.97 1162.72V1191.32M474.47 1162.72H479.47M474.47 1191.32H479.47"/><path d="M501.18 1165.96V1194.96M498.68 1165.96H503.68M498.68 1194.96H503.68"/><path d="M525.39 1174.70V1201.50M522.89 1174.70H527.89M522.89 1201.50H527.89"/><path d="M549.60 1184.34V1207.14M547.10 1184.34H552.10M547.10 1207.14H552.10"/></g>
<path d="M65.40 1272.90L89.61 1275.96L113.82 1272.14L138.03 1268.70L162.24 1272.90L186.45 1264.12L210.66 1245.78L234.87 1218.66L259.08 1211.02L283.29 1203.76L307.50 1192.30L331.71 1188.10L355.92 1177.02L380.13 1165.56L404.34 1161.74L428.55 1161.74L452.76 1169.38L476.97 1177.02L501.18 1180.46L525.39 1188.10L549.60 1195.74" stroke="#ff0000" stroke-width="1.3" fill="none" stroke-linejoin="round"/>
<path d="M65.40 1269.99L68.32 1272.90L65.40 1275.82L62.48 1272.90Z" fill="#ff0000"/>
<path d="M89.61 1273.04L92.53 1275.96L89.61 1278.88L86.69 1275.96Z" fill="#ff0000"/>
<path d="M113.82 1269.22L116.74 1272.14L113.82 1275.06L110.90 1272.14Z" fill="#ff0000"/>
<path d="M138.03 1265.79L140.95 1268.70L138.03 1271.62L135.11 1268.70Z" fill="#ff0000"/>
<path d="M162.24 1269.99L165.16 1272.90L162.24 1275.82L159.32 1272.90Z" fill="#ff0000"/>
<path d="M186.45 1261.20L189.37 1264.12L186.45 1267.03L183.53 1264.12Z" fill="#ff0000"/>
<path d="M210.66 1242.87L213.58 1245.78L210.66 1248.70L207.74 1245.78Z" fill="#ff0000"/>
<path d="M234.87 1215.74L237.79 1218.66L234.87 1221.58L231.95 1218.66Z" fill="#ff0000"/>
<path d="M259.08 1208.10L262.00 1211.02L259.08 1213.94L256.16 1211.02Z" fill="#ff0000"/>
<path d="M283.29 1200.85L286.21 1203.76L283.29 1206.68L280.37 1203.76Z" fill="#ff0000"/>
<path d="M307.50 1189.39L310.42 1192.30L307.50 1195.22L304.58 1192.30Z" fill="#ff0000"/>
<path d="M331.71 1185.18L334.63 1188.10L331.71 1191.02L328.79 1188.10Z" fill="#ff0000"/>
<path d="M355.92 1174.11L358.84 1177.02L355.92 1179.94L353.00 1177.02Z" fill="#ff0000"/>
<path d="M380.13 1162.65L383.05 1165.56L380.13 1168.48L377.21 1165.56Z" fill="#ff0000"/>
<path d="M404.34 1158.83L407.26 1161.74L404.34 1164.66L401.42 1161.74Z" fill="#ff0000"/>
<path d="M428.55 1158.83L431.47 1161.74L428.55 1164.66L425.63 1161.74Z" fill="#ff0000"/>
<path d="M452.76 1166.47L455.68 1169.38L452.76 1172.30L449.84 1169.38Z" fill="#ff0000"/>
<path d="M476.97 1174.11L479.89 1177.02L476.97 1179.94L474.05 1177.02Z" fill="#ff0000"/>
<path d="M501.18 1177.54L504.10 1180.46L501.18 1183.38L498.26 1180.46Z" fill="#ff0000"/>
<path d="M525.39 1185.18L528.31 1188.10L525.39 1191.02L522.47 1188.10Z" fill="#ff0000"/>
<path d="M549.60 1192.82L552.52 1195.74L549.60 1198.66L546.68 1195.74Z" fill="#ff0000"/>
<g stroke="#0000ff" stroke-width="1.0" fill="none" opacity="1.0"><path d="M65.40 1261.90V1283.90M62.90 1261.90H67.90M62.90 1283.90H67.90"/><path d="M89.61 1259.99V1281.99M87.11 1259.99H92.11M87.11 1281.99H92.11"/><path d="M113.82 1256.70V1280.70M111.32 1256.70H116.32M111.32 1280.70H116.32"/><path d="M138.03 1266.84V1285.84M135.53 1266.84H140.53M135.53 1285.84H140.53"/><path d="M162.24 1261.90V1283.90M159.74 1261.90H164.74M159.74 1283.90H164.74"/><path d="M186.45 1256.70V1280.70M183.95 1256.70H188.95M183.95 1280.70H188.95"/><path d="M210.66 1236.60V1262.60M208.16 1236.60H213.16M208.16 1262.60H213.16"/><path d="M234.87 1202.82V1227.62M232.37 1202.82H237.37M232.37 1227.62H237.37"/><path d="M259.08 1211.26V1234.46M256.58 1211.26H261.58M256.58 1234.46H261.58"/><path d="M283.29 1182.72V1209.52M280.79 1182.72H285.79M280.79 1209.52H285.79"/><path d="M307.50 1171.06V1198.26M305.00 1171.06H310.00M305.00 1198.26H310.00"/><path d="M331.71 1167.66V1201.66M329.21 1167.66H334.21M329.21 1201.66H334.21"/><path d="M355.92 1155.18V1183.58M353.42 1155.18H358.42M353.42 1183.58H358.42"/><path d="M380.13 1155.48V1183.28M377.63 1155.48H382.63M377.63 1183.28H382.63"/><path d="M404.34 1119.30V1150.70M401.84 1119.30H406.84M401.84 1150.70H406.84"/><path d="M428.55 1113.38V1140.58M426.05 1113.38H431.05M426.05 1140.58H431.05"/><path d="M452.76 1123.22V1154.42M450.26 1123.22H455.26M450.26 1154.42H455.26"/><path d="M476.97 1128.74V1156.54M474.47 1128.74H479.47M474.47 1156.54H479.47"/><path d="M501.18 1145.86V1176.86M498.68 1145.86H503.68M498.68 1176.86H503.68"/><path d="M525.39 1167.74V1202.34M522.89 1167.74H527.89M522.89 1202.34H527.89"/><path d="M549.60 1174.30V1210.30M547.10 1174.30H552.10M547.10 1210.30H552.10"/></g>
<path d="M65.40 1272.90L89.61 1270.99L113.82 1268.70L138.03 1276.34L162.24 1272.90L186.45 1268.70L210.66 1249.60L234.87 1215.22L259.08 1222.86L283.29 1196.12L307.50 1184.66L331.71 1184.66L355.92 1169.38L380.13 1169.38L404.34 1135.00L428.55 1126.98L452.76 1138.82L476.97 1142.64L501.18 1161.36L525.39 1185.04L549.60 1192.30" stroke="#0000ff" stroke-width="1.3" fill="none" stroke-linejoin="round"/>
<circle cx="65.40" cy="1272.90" r="2.70" fill="#0000ff"/>
<circle cx="89.61" cy="1270.99" r="2.70" fill="#0000ff"/>
<circle cx="113.82" cy="1268.70" r="2.70" fill="#0000ff"/>
<circle cx="138.03" cy="1276.34" r="2.70" fill="#0000ff"/>
<circle cx="162.24" cy="1272.90" r="2.70" fill="#0000ff"/>
<circle cx="186.45" cy="1268.70" r="2.70" fill="#0000ff"/>
<circle cx="210.66" cy="1249.60" r="2.70" fill="#0000ff"/>
<circle cx="234.87" cy="1215.22" r="2.70" fill="#0000ff"/>
<circle cx="259.08" cy="1222.86" r="2.70" fill="#0000ff"/>
<circle cx="283.29" cy="1196.12" r="2.70" fill="#0000ff"/>
<circle cx="307.50" cy="1184.66" r="2.70" fill="#0000ff"/>
<circle cx="331.71" cy="1184.66" r="2.70" fill="#0000ff"/>
<circle cx="355.92" cy="1169.38" r="2.70" fill="#0000ff"/>
<circle cx="380.13" cy="1169.38" r="2.70" fill="#0000ff"/>
<circle cx="404.34" cy="1135.00" r="2.70" fill="#0000ff"/>
<circle cx="428.55" cy="1126.98" r="2.70" fill="#0000ff"/>
<circle cx="452.76" cy="1138.82" r="2.70" fill="#0000ff"/>
<circle cx="476.97" cy="1142.64" r="2.70" fill="#0000ff"/>
<circle cx="501.18" cy="1161.36" r="2.70" fill="#0000ff"/>
<circle cx="525.39" cy="1185.04" r="2.70" fill="#0000ff"/>
<circle cx="549.60" cy="1192.30" r="2.70" fill="#0000ff"/>
</g>
<line x1="141.7" y1="25.4" x2="141.7" y2="1303.2" stroke="#777" stroke-width="1.4" stroke-dasharray="2.2 3.36" stroke-dashoffset="-0.7"/>
<rect x="65.4" y="25.4" width="484.20000000000005" height="206.6" fill="none" stroke="#2e2e2e" stroke-width="1.4"/>
<path d="M60.10 221.70H65.4M60.10 163.62H65.4M60.10 105.54H65.4M60.10 47.46H65.4M62.40 207.18H65.4M62.40 192.66H65.4M62.40 178.14H65.4M62.40 149.10H65.4M62.40 134.58H65.4M62.40 120.06H65.4M62.40 91.02H65.4M62.40 76.50H65.4M62.40 61.98H65.4M62.40 32.94H65.4M65.40 25.4V30.40M89.61 25.4V28.00M113.82 25.4V30.40M138.03 25.4V28.00M162.24 25.4V30.40M186.45 25.4V28.00M210.66 25.4V30.40M234.87 25.4V28.00M259.08 25.4V30.40M283.29 25.4V28.00M307.50 25.4V30.40M331.71 25.4V28.00M355.92 25.4V30.40M380.13 25.4V28.00M404.34 25.4V30.40M428.55 25.4V28.00M452.76 25.4V30.40M476.97 25.4V28.00M501.18 25.4V30.40M525.39 25.4V28.00M549.60 25.4V30.40" stroke="#2e2e2e" stroke-width="1.3" fill="none"/>
<text x="57" y="227.30" font-size="21" text-anchor="end" fill="#000">2</text>
<text x="57" y="169.22" font-size="21" text-anchor="end" fill="#000">6</text>
<text x="57" y="111.14" font-size="21" text-anchor="end" fill="#000">10</text>
<text x="57" y="53.06" font-size="21" text-anchor="end" fill="#000">14</text>
<rect x="65.4" y="232.0" width="484.20000000000005" height="217.2" fill="none" stroke="#2e2e2e" stroke-width="1.4"/>
<path d="M60.10 435.50H65.4M60.10 354.70H65.4M60.10 273.90H65.4M62.40 415.30H65.4M62.40 395.10H65.4M62.40 374.90H65.4M62.40 334.50H65.4M62.40 314.30H65.4M62.40 294.10H65.4M62.40 253.70H65.4M65.40 232.0V237.00M89.61 232.0V234.60M113.82 232.0V237.00M138.03 232.0V234.60M162.24 232.0V237.00M186.45 232.0V234.60M210.66 232.0V237.00M234.87 232.0V234.60M259.08 232.0V237.00M283.29 232.0V234.60M307.50 232.0V237.00M331.71 232.0V234.60M355.92 232.0V237.00M380.13 232.0V234.60M404.34 232.0V237.00M428.55 232.0V234.60M452.76 232.0V237.00M476.97 232.0V234.60M501.18 232.0V237.00M525.39 232.0V234.60M549.60 232.0V237.00" stroke="#2e2e2e" stroke-width="1.3" fill="none"/>
<text x="57" y="441.10" font-size="21" text-anchor="end" fill="#000">2</text>
<text x="57" y="360.30" font-size="21" text-anchor="end" fill="#000">6</text>
<text x="57" y="279.50" font-size="21" text-anchor="end" fill="#000">10</text>
<rect x="65.4" y="449.2" width="484.20000000000005" height="215.09999999999997" fill="none" stroke="#2e2e2e" stroke-width="1.4"/>
<path d="M60.10 651.50H65.4M60.10 578.46H65.4M60.10 505.42H65.4M62.40 633.24H65.4M62.40 614.98H65.4M62.40 596.72H65.4M62.40 560.20H65.4M62.40 541.94H65.4M62.40 523.68H65.4M62.40 487.16H65.4M62.40 468.90H65.4M62.40 450.64H65.4M65.40 449.2V454.20M89.61 449.2V451.80M113.82 449.2V454.20M138.03 449.2V451.80M162.24 449.2V454.20M186.45 449.2V451.80M210.66 449.2V454.20M234.87 449.2V451.80M259.08 449.2V454.20M283.29 449.2V451.80M307.50 449.2V454.20M331.71 449.2V451.80M355.92 449.2V454.20M380.13 449.2V451.80M404.34 449.2V454.20M428.55 449.2V451.80M452.76 449.2V454.20M476.97 449.2V451.80M501.18 449.2V454.20M525.39 449.2V451.80M549.60 449.2V454.20" stroke="#2e2e2e" stroke-width="1.3" fill="none"/>
<text x="57" y="657.10" font-size="21" text-anchor="end" fill="#000">2</text>
<text x="57" y="584.06" font-size="21" text-anchor="end" fill="#000">6</text>
<text x="57" y="511.02" font-size="21" text-anchor="end" fill="#000">10</text>
<rect x="65.4" y="664.3" width="484.20000000000005" height="217.30000000000007" fill="none" stroke="#2e2e2e" stroke-width="1.4"/>
<path d="M60.10 860.80H65.4M60.10 801.64H65.4M60.10 742.48H65.4M60.10 683.32H65.4M62.40 831.22H65.4M62.40 772.06H65.4M62.40 712.90H65.4M65.40 664.3V669.30M89.61 664.3V666.90M113.82 664.3V669.30M138.03 664.3V666.90M162.24 664.3V669.30M186.45 664.3V666.90M210.66 664.3V669.30M234.87 664.3V666.90M259.08 664.3V669.30M283.29 664.3V666.90M307.50 664.3V669.30M331.71 664.3V666.90M355.92 664.3V669.30M380.13 664.3V666.90M404.34 664.3V669.30M428.55 664.3V666.90M452.76 664.3V669.30M476.97 664.3V666.90M501.18 664.3V669.30M525.39 664.3V666.90M549.60 664.3V669.30" stroke="#2e2e2e" stroke-width="1.3" fill="none"/>
<text x="57" y="866.40" font-size="21" text-anchor="end" fill="#000">2</text>
<text x="57" y="807.24" font-size="21" text-anchor="end" fill="#000">4</text>
<text x="57" y="748.08" font-size="21" text-anchor="end" fill="#000">6</text>
<text x="57" y="688.92" font-size="21" text-anchor="end" fill="#000">8</text>
<rect x="65.4" y="881.6" width="484.20000000000005" height="211.69999999999993" fill="none" stroke="#2e2e2e" stroke-width="1.4"/>
<path d="M60.10 1085.90H65.4M60.10 1024.90H65.4M60.10 963.90H65.4M60.10 902.90H65.4M62.40 1070.65H65.4M62.40 1055.40H65.4M62.40 1040.15H65.4M62.40 1009.65H65.4M62.40 994.40H65.4M62.40 979.15H65.4M62.40 948.65H65.4M62.40 933.40H65.4M62.40 918.15H65.4M62.40 887.65H65.4M65.40 881.6V886.60M89.61 881.6V884.20M113.82 881.6V886.60M138.03 881.6V884.20M162.24 881.6V886.60M186.45 881.6V884.20M210.66 881.6V886.60M234.87 881.6V884.20M259.08 881.6V886.60M283.29 881.6V884.20M307.50 881.6V886.60M331.71 881.6V884.20M355.92 881.6V886.60M380.13 881.6V884.20M404.34 881.6V886.60M428.55 881.6V884.20M452.76 881.6V886.60M476.97 881.6V884.20M501.18 881.6V886.60M525.39 881.6V884.20M549.60 881.6V886.60" stroke="#2e2e2e" stroke-width="1.3" fill="none"/>
<text x="57" y="1091.50" font-size="21" text-anchor="end" fill="#000">2</text>
<text x="57" y="1030.50" font-size="21" text-anchor="end" fill="#000">10</text>
<text x="57" y="969.50" font-size="21" text-anchor="end" fill="#000">18</text>
<text x="57" y="908.50" font-size="21" text-anchor="end" fill="#000">26</text>
<rect x="65.4" y="1093.3" width="484.20000000000005" height="209.9000000000001" fill="none" stroke="#2e2e2e" stroke-width="1.4"/>
<path d="M60.10 1283.60H65.4M60.10 1207.20H65.4M60.10 1130.80H65.4M62.40 1245.40H65.4M62.40 1169.00H65.4M65.40 1093.3V1098.30M89.61 1093.3V1095.90M113.82 1093.3V1098.30M138.03 1093.3V1095.90M162.24 1093.3V1098.30M186.45 1093.3V1095.90M210.66 1093.3V1098.30M234.87 1093.3V1095.90M259.08 1093.3V1098.30M283.29 1093.3V1095.90M307.50 1093.3V1098.30M331.71 1093.3V1095.90M355.92 1093.3V1098.30M380.13 1093.3V1095.90M404.34 1093.3V1098.30M428.55 1093.3V1095.90M452.76 1093.3V1098.30M476.97 1093.3V1095.90M501.18 1093.3V1098.30M525.39 1093.3V1095.90M549.60 1093.3V1098.30M65.40 1303.2V1310.70M89.61 1303.2V1307.50M113.82 1303.2V1310.70M138.03 1303.2V1307.50M162.24 1303.2V1310.70M186.45 1303.2V1307.50M210.66 1303.2V1310.70M234.87 1303.2V1307.50M259.08 1303.2V1310.70M283.29 1303.2V1307.50M307.50 1303.2V1310.70M331.71 1303.2V1307.50M355.92 1303.2V1310.70M380.13 1303.2V1307.50M404.34 1303.2V1310.70M428.55 1303.2V1307.50M452.76 1303.2V1310.70M476.97 1303.2V1307.50M501.18 1303.2V1310.70M525.39 1303.2V1307.50M549.60 1303.2V1310.70" stroke="#2e2e2e" stroke-width="1.3" fill="none"/>
<text x="57" y="1289.20" font-size="21" text-anchor="end" fill="#000">2</text>
<text x="57" y="1212.80" font-size="21" text-anchor="end" fill="#000">4</text>
<text x="57" y="1136.40" font-size="21" text-anchor="end" fill="#000">6</text>
<text x="65.40" y="14.8" font-size="21" text-anchor="middle" fill="#000">0</text>
<text x="65.40" y="1332.3" font-size="21" text-anchor="middle" fill="#000">0</text>
<text x="113.82" y="14.8" font-size="21" text-anchor="middle" fill="#000">20</text>
<text x="113.82" y="1332.3" font-size="21" text-anchor="middle" fill="#000">20</text>
<text x="162.24" y="14.8" font-size="21" text-anchor="middle" fill="#000">40</text>
<text x="162.24" y="1332.3" font-size="21" text-anchor="middle" fill="#000">40</text>
<text x="210.66" y="14.8" font-size="21" text-anchor="middle" fill="#000">60</text>
<text x="210.66" y="1332.3" font-size="21" text-anchor="middle" fill="#000">60</text>
<text x="259.08" y="14.8" font-size="21" text-anchor="middle" fill="#000">80</text>
<text x="259.08" y="1332.3" font-size="21" text-anchor="middle" fill="#000">80</text>
<text x="307.50" y="14.8" font-size="21" text-anchor="middle" fill="#000">100</text>
<text x="307.50" y="1332.3" font-size="21" text-anchor="middle" fill="#000">100</text>
<text x="355.92" y="14.8" font-size="21" text-anchor="middle" fill="#000">120</text>
<text x="355.92" y="1332.3" font-size="21" text-anchor="middle" fill="#000">120</text>
<text x="404.34" y="14.8" font-size="21" text-anchor="middle" fill="#000">140</text>
<text x="404.34" y="1332.3" font-size="21" text-anchor="middle" fill="#000">140</text>
<text x="452.76" y="14.8" font-size="21" text-anchor="middle" fill="#000">160</text>
<text x="452.76" y="1332.3" font-size="21" text-anchor="middle" fill="#000">160</text>
<text x="501.18" y="14.8" font-size="21" text-anchor="middle" fill="#000">180</text>
<text x="501.18" y="1332.3" font-size="21" text-anchor="middle" fill="#000">180</text>
<text x="548.40" y="14.8" font-size="21" text-anchor="middle" fill="#000">200</text>
<text x="548.40" y="1332.3" font-size="21" text-anchor="middle" fill="#000">200</text>
<text x="307.6" y="1355.7" font-size="21" text-anchor="middle" textLength="105" lengthAdjust="spacingAndGlyphs" fill="#000">Time (min)</text>
<text transform="translate(19.5 652.2) rotate(-90) scale(0.972 1)" font-size="27.2" text-anchor="middle" fill="#000">Gastric Acid Output (μmol/10 min)</text>
<text x="150.40" y="58.80" font-size="15.5" font-weight="bold" textLength="95.36" lengthAdjust="spacingAndGlyphs" fill="#000">CARBACHOL</text>
<line x1="145.5" y1="68.3" x2="182.8" y2="68.3" stroke="#ff0000" stroke-width="1.9"/>
<path d="M190 68.3L181 65.55L181.4 68.3L181 71.05Z" fill="#ff0000"/>
<text x="86.90" y="85.20" font-size="15.5" font-weight="bold" textLength="50.98" lengthAdjust="spacingAndGlyphs" fill="#000">BASAL</text>
<line x1="139.5" y1="107.1" x2="101.0" y2="107.1" stroke="#000000" stroke-width="1.9"/>
<path d="M93.8 107.1L102.8 104.35L102.39999999999999 107.1L102.8 109.85Z" fill="#000000"/>
<line x1="237.7" y1="184" x2="237.7" y2="171.2" stroke="#0000ff" stroke-width="1.9"/>
<path d="M237.7 164.0L235.1 173.0L237.7 172.6L240.29999999999998 173.0Z" fill="#0000ff"/>
<text x="246.60" y="181.40" font-size="15.5" font-weight="bold" textLength="45.91" lengthAdjust="spacingAndGlyphs" fill="#000">NMDA</text>
<text x="283.2900000000001" y="75.1" font-size="22" font-weight="bold" text-anchor="middle" fill="#000">*</text>
<text x="307.5" y="47.8" font-size="22" font-weight="bold" text-anchor="middle" fill="#000">*</text>
<text x="331.71000000000004" y="49.5" font-size="22" font-weight="bold" text-anchor="middle" fill="#000">*</text>
<text x="355.9200000000001" y="55.5" font-size="22" font-weight="bold" text-anchor="middle" fill="#000">*</text>
<text x="150.60" y="257.30" font-size="15.5" font-weight="bold" textLength="82.90" lengthAdjust="spacingAndGlyphs" fill="#000">HISTAMINE</text>
<line x1="145.3" y1="267.1" x2="182.70000000000002" y2="267.1" stroke="#ff0000" stroke-width="1.9"/>
<path d="M189.9 267.1L180.9 264.35L181.3 267.1L180.9 269.85Z" fill="#ff0000"/>
<line x1="212.9" y1="326.6" x2="212.9" y2="308.5" stroke="#0000ff" stroke-width="1.9"/>
<path d="M212.9 301.3L210.3 310.3L212.9 309.90000000000003L215.5 310.3Z" fill="#0000ff"/>
<text x="221.50" y="328.20" font-size="15.5" font-weight="bold" textLength="45.09" lengthAdjust="spacingAndGlyphs" fill="#000">NMDA</text>
<text x="283.2900000000001" y="258.5" font-size="22" font-weight="bold" text-anchor="middle" fill="#000">*</text>
<text x="307.5" y="279.2" font-size="22" font-weight="bold" text-anchor="middle" fill="#000">*</text>
<text x="331.71000000000004" y="331.0" font-size="22" font-weight="bold" text-anchor="middle" fill="#000">*</text>
<text x="355.9200000000001" y="346.4" font-size="22" font-weight="bold" text-anchor="middle" fill="#000">*</text>
<line x1="366.7" y1="265.8" x2="405.3" y2="265.8" stroke="#ff0000" stroke-width="1.3"/>
<path d="M386.20 259.60L392.40 265.80L386.20 272.00L380.00 265.80Z" fill="#ff0000"/>
<line x1="366.7" y1="287.9" x2="405.3" y2="287.9" stroke="#0000ff" stroke-width="1.3"/>
<circle cx="386.20" cy="287.90" r="5.30" fill="#0000ff"/>
<line x1="366.7" y1="309.8" x2="405.3" y2="309.8" stroke="#000" stroke-width="1.3"/>
<rect x="381.69" y="305.30" width="9.01" height="9.01" fill="#000"/>
<text x="410.5" y="272" font-size="17.4" fill="#000">Stimulated</text>
<text x="410.5" y="294.1" font-size="17.4" fill="#000">Stimul. + NMDA</text>
<text x="410.5" y="316" font-size="17.4" fill="#000">Basal</text>
<text x="152.20" y="474.40" font-size="15.5" font-weight="bold" textLength="119.12" lengthAdjust="spacingAndGlyphs" fill="#000">PENTAGASTRIN</text>
<line x1="147.2" y1="484.2" x2="185.20000000000002" y2="484.2" stroke="#ff0000" stroke-width="1.9"/>
<path d="M192.4 484.2L183.4 481.45L183.8 484.2L183.4 486.95Z" fill="#ff0000"/>
<line x1="214.5" y1="568.4" x2="214.5" y2="549.8000000000001" stroke="#0000ff" stroke-width="1.9"/>
<path d="M214.5 542.6L211.9 551.6L214.5 551.2L217.1 551.6Z" fill="#0000ff"/>
<text x="225.70" y="566.40" font-size="15.5" font-weight="bold" textLength="45.29" lengthAdjust="spacingAndGlyphs" fill="#000">NMDA</text>
<text x="151.60" y="691.50" font-size="15.5" font-weight="bold" textLength="54.76" lengthAdjust="spacingAndGlyphs" fill="#000">CITISIN</text>
<line x1="144.1" y1="701.1" x2="180.9" y2="701.1" stroke="#ff0000" stroke-width="1.9"/>
<path d="M188.1 701.1L179.1 698.35L179.5 701.1L179.1 703.85Z" fill="#ff0000"/>
<line x1="262.4" y1="833.4" x2="262.4" y2="814.9000000000001" stroke="#0000ff" stroke-width="1.9"/>
<path d="M262.4 807.7L259.79999999999995 816.7L262.4 816.3000000000001L265.0 816.7Z" fill="#0000ff"/>
<text x="273.00" y="830.10" font-size="15.5" font-weight="bold" textLength="46.50" lengthAdjust="spacingAndGlyphs" fill="#000">NMDA</text>
<text x="153.80" y="909.90" font-size="15.5" font-weight="bold" textLength="59.66" lengthAdjust="spacingAndGlyphs" fill="#000">INSULIN</text>
<line x1="145.3" y1="918.8" x2="182.70000000000002" y2="918.8" stroke="#ff0000" stroke-width="1.9"/>
<path d="M189.9 918.8L180.9 916.05L181.3 918.8L180.9 921.55Z" fill="#ff0000"/>
<text x="84.30" y="940.00" font-size="15.5" font-weight="bold" textLength="50.54" lengthAdjust="spacingAndGlyphs" fill="#000">BASAL</text>
<line x1="139.6" y1="951.7" x2="101.10000000000001" y2="951.7" stroke="#000000" stroke-width="1.9"/>
<path d="M93.9 951.7L102.9 948.95L102.5 951.7L102.9 954.45Z" fill="#000000"/>
<line x1="380.9" y1="1070" x2="380.9" y2="1051.6000000000001" stroke="#0000ff" stroke-width="1.9"/>
<path d="M380.9 1044.4L378.29999999999995 1053.4L380.9 1053.0L383.5 1053.4Z" fill="#0000ff"/>
<text x="391.60" y="1064.40" font-size="15.5" font-weight="bold" textLength="46.01" lengthAdjust="spacingAndGlyphs" fill="#000">NMDA</text>
<text x="452.76" y="903.1" font-size="22" font-weight="bold" text-anchor="middle" fill="#000">*</text>
<text x="476.97" y="903.1" font-size="22" font-weight="bold" text-anchor="middle" fill="#000">*</text>
<text x="151.70" y="1126.40" font-size="15.5" font-weight="bold" textLength="35.95" lengthAdjust="spacingAndGlyphs" fill="#000">2-DG</text>
<line x1="144.1" y1="1134.6" x2="180.9" y2="1134.6" stroke="#ff0000" stroke-width="1.9"/>
<path d="M188.1 1134.6L179.1 1131.85L179.5 1134.6L179.1 1137.35Z" fill="#ff0000"/>
<line x1="334.9" y1="1230.3" x2="334.9" y2="1212.8" stroke="#0000ff" stroke-width="1.9"/>
<path d="M334.9 1205.6L332.29999999999995 1214.6L334.9 1214.1999999999998L337.5 1214.6Z" fill="#0000ff"/>
<text x="345.80" y="1229.40" font-size="15.5" font-weight="bold" textLength="44.18" lengthAdjust="spacingAndGlyphs" fill="#000">NMDA</text>
<text x="428.54999999999995" y="1112.4" font-size="22" font-weight="bold" text-anchor="middle" fill="#000">*</text>
<text x="452.76" y="1118.6" font-size="22" font-weight="bold" text-anchor="middle" fill="#000">*</text>
<text x="476.97" y="1127.2" font-size="22" font-weight="bold" text-anchor="middle" fill="#000">*</text>
</svg></body></html>
